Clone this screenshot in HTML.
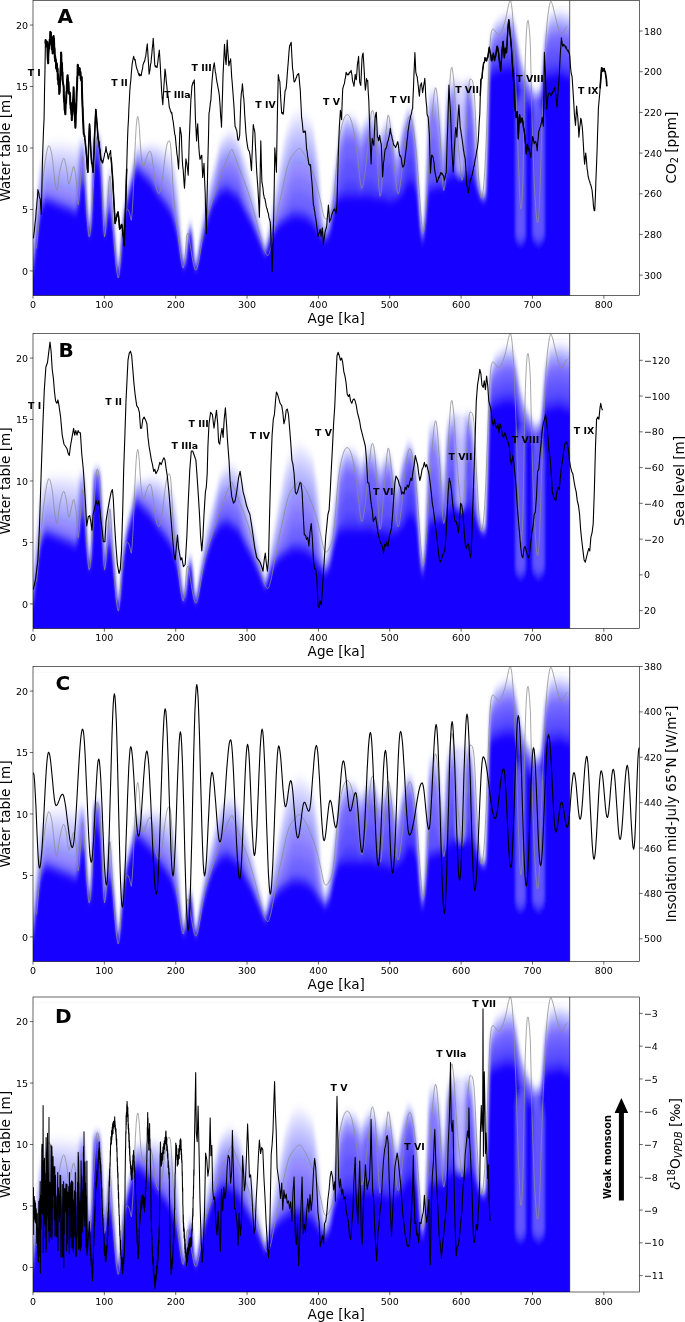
<!DOCTYPE html><html><head><meta charset="utf-8"><style>html,body{margin:0;padding:0;background:#fff;overflow:hidden}svg{display:block}</style></head><body><svg width="685" height="1322" viewBox="0 0 685 1322">
<style>.tk{font-family:'DejaVu Sans', 'Liberation Sans', sans-serif;font-size:9.5px;fill:#000}.al{font-family:'DejaVu Sans', 'Liberation Sans', sans-serif;font-size:13.6px;fill:#000}.pl{font-family:'DejaVu Sans', 'Liberation Sans', sans-serif;font-size:20px;font-weight:bold;fill:#000}.tl{font-family:'DejaVu Sans', 'Liberation Sans', sans-serif;font-size:9.4px;font-weight:bold;fill:#000}</style>
<rect width="685" height="1322" fill="#fff"/>
<defs><filter id="bl" x="-0.1" y="-0.1" width="1.2" height="1.2"><feGaussianBlur stdDeviation="1.8 4"/></filter>
<clipPath id="cp"><rect x="33" y="0.5" width="536.8" height="295"/></clipPath><clipPath id="cp2"><rect x="33" y="0.5" width="606.5" height="295"/></clipPath>
<g id="dens"><path d="M26.0,320 L26.0,251.4 L33.0,236.9 L36.0,202.3 L39.0,167.8 L42.0,153.0 L45.5,145.0 L50.0,142.2 L60.0,141.5 L70.0,142.6 L75.3,143.7 L77.5,143.1 L80.2,138.4 L82.0,137.0 L85.0,141.3 L86.5,181.6 L89.8,232.4 L92.0,191.2 L93.5,136.4 L96.0,134.4 L100.0,134.4 L101.8,151.9 L104.6,233.3 L107.4,176.9 L110.0,163.3 L113.0,201.4 L117.6,268.3 L120.0,250.9 L122.0,216.4 L124.5,201.0 L127.0,185.9 L131.0,170.9 L135.0,150.9 L137.0,146.0 L143.0,146.2 L150.0,143.5 L157.0,143.9 L165.0,147.4 L171.0,152.6 L175.0,163.2 L178.0,187.6 L181.0,231.4 L184.0,262.4 L186.5,245.7 L188.5,226.7 L190.4,218.6 L192.2,226.7 L194.0,250.7 L196.0,265.3 L200.6,228.1 L206.3,194.6 L213.0,166.9 L220.0,139.8 L226.7,132.0 L231.3,130.1 L238.0,136.1 L245.0,157.3 L251.7,182.1 L258.5,213.4 L265.3,245.5 L272.0,206.5 L279.0,163.1 L285.7,128.8 L292.5,113.7 L299.3,109.9 L306.0,113.8 L313.0,121.7 L318.6,154.0 L321.3,201.8 L324.8,227.7 L330.0,201.7 L334.0,167.3 L337.5,146.6 L339.0,126.5 L346.0,113.3 L355.0,116.3 L361.0,126.4 L365.0,119.2 L370.0,111.3 L375.0,116.3 L380.0,131.4 L385.0,121.2 L390.0,116.3 L397.0,151.3 L403.0,121.1 L408.0,106.1 L413.0,111.0 L417.0,141.4 L420.0,201.4 L422.5,232.6 L425.0,201.4 L429.0,90.7 L435.0,86.8 L440.0,102.2 L443.5,152.0 L447.0,86.6 L452.0,78.3 L458.0,78.7 L462.0,81.7 L466.0,78.3 L471.0,78.2 L475.0,111.9 L478.0,171.1 L482.0,195.2 L486.0,190.5 L488.0,101.6 L490.0,35.9 L495.0,21.1 L505.0,13.2 L513.0,13.2 L516.0,26.0 L520.0,51.0 L525.0,70.7 L530.0,80.6 L535.0,90.5 L541.0,85.5 L545.0,31.0 L550.0,11.4 L560.0,9.4 L566.0,11.4 L576.0,13.4 L576.0,320 Z" fill="#1600ff" fill-opacity="0.050"/><path d="M26.0,320 L26.0,254.0 L33.0,240.3 L36.0,206.7 L39.0,173.0 L42.0,158.5 L45.5,150.6 L50.0,148.2 L60.0,147.9 L70.0,149.3 L75.3,150.6 L77.5,148.8 L80.2,141.1 L82.0,138.8 L85.0,143.6 L86.5,184.7 L89.8,233.1 L92.0,193.3 L93.5,137.0 L96.0,135.0 L100.0,135.2 L101.8,155.3 L104.6,233.9 L107.4,180.3 L110.0,165.8 L113.0,204.0 L117.6,268.9 L120.0,252.7 L122.0,219.0 L124.5,202.8 L127.0,187.7 L131.0,172.7 L135.0,152.6 L137.0,147.8 L143.0,148.4 L150.0,146.4 L157.0,147.5 L165.0,151.9 L171.0,157.3 L175.0,169.1 L178.0,192.3 L181.0,234.0 L184.0,263.1 L186.5,247.0 L188.5,227.9 L190.4,219.6 L192.2,228.1 L194.0,251.9 L196.0,265.9 L200.6,230.1 L206.3,197.5 L213.0,170.5 L220.0,143.1 L226.7,135.6 L231.3,134.0 L238.0,140.0 L245.0,161.6 L251.7,186.1 L258.5,216.0 L265.3,246.5 L272.0,209.4 L279.0,168.9 L285.7,135.9 L292.5,120.7 L299.3,117.1 L306.0,120.9 L313.0,128.7 L318.6,161.3 L321.3,205.1 L324.8,229.0 L330.0,204.8 L334.0,171.7 L337.5,149.7 L339.0,129.2 L346.0,115.7 L355.0,118.6 L361.0,129.1 L365.0,121.5 L370.0,113.8 L375.0,118.7 L380.0,133.9 L385.0,123.5 L390.0,118.8 L397.0,153.6 L403.0,123.3 L408.0,108.2 L413.0,113.0 L417.0,144.0 L420.0,204.0 L422.5,233.7 L425.0,204.0 L429.0,94.0 L435.0,90.1 L440.0,106.4 L443.5,155.7 L447.0,89.6 L452.0,80.7 L458.0,81.9 L462.0,84.7 L466.0,80.7 L471.0,80.6 L475.0,115.4 L478.0,173.1 L482.0,195.7 L486.0,191.3 L488.0,104.5 L490.0,37.5 L495.0,23.1 L505.0,15.4 L513.0,15.4 L516.0,27.9 L520.0,52.9 L525.0,72.0 L530.0,81.7 L535.0,91.4 L541.0,86.4 L545.0,32.8 L550.0,13.9 L560.0,11.9 L566.0,13.9 L576.0,15.9 L576.0,320 Z" fill="#1600ff" fill-opacity="0.074"/><path d="M26.0,320 L26.0,256.9 L33.0,244.3 L36.0,211.6 L39.0,178.9 L42.0,164.7 L45.5,157.0 L50.0,155.0 L60.0,155.2 L70.0,156.9 L75.3,158.4 L77.5,155.4 L80.2,144.0 L82.0,140.8 L85.0,146.3 L86.5,188.1 L89.8,233.9 L92.0,195.8 L93.5,137.8 L96.0,135.8 L100.0,136.1 L101.8,159.3 L104.6,234.6 L107.4,184.3 L110.0,168.6 L113.0,206.9 L117.6,269.6 L120.0,254.6 L122.0,221.9 L124.5,204.9 L127.0,189.6 L131.0,174.6 L135.0,154.4 L137.0,149.8 L143.0,150.9 L150.0,149.6 L157.0,151.6 L165.0,156.9 L171.0,162.7 L175.0,175.7 L178.0,197.7 L181.0,236.9 L184.0,263.9 L186.5,248.5 L188.5,229.2 L190.4,220.8 L192.2,229.7 L194.0,253.2 L196.0,266.6 L200.6,232.3 L206.3,200.9 L213.0,174.5 L220.0,146.9 L226.7,139.7 L231.3,138.5 L238.0,144.3 L245.0,166.5 L251.7,190.7 L258.5,218.9 L265.3,247.5 L272.0,212.6 L279.0,175.5 L285.7,144.0 L292.5,128.6 L299.3,125.3 L306.0,128.9 L313.0,136.6 L318.6,169.7 L321.3,208.8 L324.8,230.5 L330.0,208.3 L334.0,176.6 L337.5,153.2 L339.0,132.3 L346.0,118.5 L355.0,121.3 L361.0,132.1 L365.0,124.0 L370.0,116.6 L375.0,121.4 L380.0,136.8 L385.0,126.1 L390.0,121.6 L397.0,156.3 L403.0,125.7 L408.0,110.5 L413.0,115.1 L417.0,146.9 L420.0,206.9 L422.5,235.0 L425.0,206.9 L429.0,97.6 L435.0,93.8 L440.0,111.0 L443.5,159.8 L447.0,93.0 L452.0,83.4 L458.0,85.5 L462.0,88.2 L466.0,83.4 L471.0,83.2 L475.0,119.4 L478.0,175.3 L482.0,196.2 L486.0,192.3 L488.0,107.8 L490.0,39.3 L495.0,25.4 L505.0,17.8 L513.0,17.8 L516.0,30.0 L520.0,55.0 L525.0,73.5 L530.0,83.0 L535.0,92.5 L541.0,87.5 L545.0,34.9 L550.0,16.7 L560.0,14.7 L566.0,16.8 L576.0,18.8 L576.0,320 Z" fill="#1600ff" fill-opacity="0.080"/><path d="M26.0,320 L26.0,260.1 L33.0,248.5 L36.0,216.9 L39.0,185.2 L42.0,171.5 L45.5,163.8 L50.0,162.3 L60.0,163.0 L70.0,165.1 L75.3,166.8 L77.5,162.4 L80.2,147.3 L82.0,143.0 L85.0,149.1 L86.5,191.8 L89.8,234.7 L92.0,198.4 L93.5,138.6 L96.0,136.6 L100.0,137.0 L101.8,163.5 L104.6,235.4 L107.4,188.5 L110.0,171.7 L113.0,210.1 L117.6,270.4 L120.0,256.7 L122.0,225.1 L124.5,207.1 L127.0,191.7 L131.0,176.7 L135.0,156.5 L137.0,152.0 L143.0,153.5 L150.0,153.1 L157.0,156.0 L165.0,162.4 L171.0,168.5 L175.0,182.9 L178.0,203.6 L181.0,240.1 L184.0,264.7 L186.5,250.1 L188.5,230.7 L190.4,222.0 L192.2,231.4 L194.0,254.7 L196.0,267.4 L200.6,234.8 L206.3,204.5 L213.0,178.8 L220.0,151.0 L226.7,144.1 L231.3,143.3 L238.0,149.1 L245.0,171.8 L251.7,195.5 L258.5,222.1 L265.3,248.7 L272.0,216.1 L279.0,182.6 L285.7,152.6 L292.5,137.1 L299.3,134.1 L306.0,137.6 L313.0,145.1 L318.6,178.7 L321.3,212.8 L324.8,232.1 L330.0,212.1 L334.0,181.9 L337.5,156.9 L339.0,135.7 L346.0,121.5 L355.0,124.1 L361.0,135.4 L365.0,126.8 L370.0,119.7 L375.0,124.3 L380.0,140.0 L385.0,128.9 L390.0,124.7 L397.0,159.1 L403.0,128.2 L408.0,113.0 L413.0,117.5 L417.0,150.0 L420.0,210.1 L422.5,236.4 L425.0,210.1 L429.0,101.6 L435.0,97.8 L440.0,116.1 L443.5,164.3 L447.0,96.6 L452.0,86.3 L458.0,89.3 L462.0,92.0 L466.0,86.3 L471.0,86.0 L475.0,123.7 L478.0,177.8 L482.0,196.7 L486.0,193.4 L488.0,111.4 L490.0,41.3 L495.0,27.9 L505.0,20.5 L513.0,20.5 L516.0,32.3 L520.0,57.3 L525.0,75.1 L530.0,84.4 L535.0,93.7 L541.0,88.7 L545.0,37.2 L550.0,19.8 L560.0,17.8 L566.0,20.0 L576.0,22.0 L576.0,320 Z" fill="#1600ff" fill-opacity="0.086"/><path d="M26.0,320 L26.0,263.5 L33.0,253.0 L36.0,222.5 L39.0,192.0 L42.0,178.6 L45.5,171.1 L50.0,170.0 L60.0,171.3 L70.0,173.8 L75.3,175.7 L77.5,169.8 L80.2,150.7 L82.0,145.3 L85.0,152.1 L86.5,195.7 L89.8,235.6 L92.0,201.2 L93.5,139.5 L96.0,137.4 L100.0,138.0 L101.8,168.0 L104.6,236.1 L107.4,193.0 L110.0,174.9 L113.0,213.5 L117.6,271.1 L120.0,259.0 L122.0,228.5 L124.5,209.4 L127.0,194.0 L131.0,179.0 L135.0,158.6 L137.0,154.3 L143.0,156.4 L150.0,156.8 L157.0,160.6 L165.0,168.1 L171.0,174.6 L175.0,190.5 L178.0,209.7 L181.0,243.5 L184.0,265.6 L186.5,251.7 L188.5,232.3 L190.4,223.4 L192.2,233.2 L194.0,256.3 L196.0,268.1 L200.6,237.3 L206.3,208.3 L213.0,183.4 L220.0,155.3 L226.7,148.8 L231.3,148.3 L238.0,154.0 L245.0,177.4 L251.7,200.7 L258.5,225.5 L265.3,249.9 L272.0,219.8 L279.0,190.1 L285.7,161.8 L292.5,146.1 L299.3,143.4 L306.0,146.7 L313.0,154.1 L318.6,188.2 L321.3,217.1 L324.8,233.7 L330.0,216.2 L334.0,187.5 L337.5,160.9 L339.0,139.2 L346.0,124.6 L355.0,127.2 L361.0,138.8 L365.0,129.7 L370.0,122.9 L375.0,127.4 L380.0,143.3 L385.0,131.9 L390.0,127.9 L397.0,162.1 L403.0,131.0 L408.0,115.6 L413.0,120.0 L417.0,153.4 L420.0,213.5 L422.5,237.8 L425.0,213.5 L429.0,105.7 L435.0,102.1 L440.0,121.4 L443.5,169.1 L447.0,100.4 L452.0,89.3 L458.0,93.4 L462.0,95.9 L466.0,89.3 L471.0,89.0 L475.0,128.2 L478.0,180.3 L482.0,197.2 L486.0,194.5 L488.0,115.2 L490.0,43.4 L495.0,30.5 L505.0,23.3 L513.0,23.3 L516.0,34.8 L520.0,59.8 L525.0,76.8 L530.0,85.9 L535.0,94.9 L541.0,89.9 L545.0,39.6 L550.0,23.1 L560.0,21.1 L566.0,23.3 L576.0,25.3 L576.0,320 Z" fill="#1600ff" fill-opacity="0.095"/><path d="M26.0,320 L26.0,267.0 L33.0,257.6 L36.0,228.3 L39.0,199.0 L42.0,186.0 L45.5,178.6 L50.0,178.0 L60.0,180.0 L70.0,182.8 L75.3,185.0 L77.5,177.5 L80.2,154.2 L82.0,147.7 L85.0,155.3 L86.5,199.8 L89.8,236.5 L92.0,204.1 L93.5,140.4 L96.0,138.3 L100.0,139.0 L101.8,172.6 L104.6,237.0 L107.4,197.6 L110.0,178.2 L113.0,217.0 L117.6,272.0 L120.0,261.3 L122.0,232.0 L124.5,211.9 L127.0,196.3 L131.0,181.3 L135.0,160.9 L137.0,156.7 L143.0,159.3 L150.0,160.7 L157.0,165.4 L165.0,174.1 L171.0,181.0 L175.0,198.5 L178.0,216.1 L181.0,247.0 L184.0,266.5 L186.5,253.5 L188.5,233.9 L190.4,224.8 L192.2,235.1 L194.0,257.9 L196.0,269.0 L200.6,240.0 L206.3,212.2 L213.0,188.2 L220.0,159.8 L226.7,153.7 L231.3,153.6 L238.0,159.2 L245.0,183.2 L251.7,206.0 L258.5,229.0 L265.3,251.2 L272.0,223.7 L279.0,197.9 L285.7,171.3 L292.5,155.4 L299.3,153.1 L306.0,156.3 L313.0,163.4 L318.6,198.1 L321.3,221.5 L324.8,235.5 L330.0,220.4 L334.0,193.3 L337.5,165.0 L339.0,142.9 L346.0,127.9 L355.0,130.3 L361.0,142.4 L365.0,132.8 L370.0,126.2 L375.0,130.7 L380.0,146.7 L385.0,134.9 L390.0,131.2 L397.0,165.3 L403.0,133.8 L408.0,118.4 L413.0,122.6 L417.0,156.8 L420.0,217.0 L422.5,239.4 L425.0,217.0 L429.0,110.1 L435.0,106.5 L440.0,126.9 L443.5,174.0 L447.0,104.4 L452.0,92.5 L458.0,97.7 L462.0,100.1 L466.0,92.5 L471.0,92.1 L475.0,133.0 L478.0,183.0 L482.0,197.8 L486.0,195.7 L488.0,119.1 L490.0,45.6 L495.0,33.3 L505.0,26.3 L513.0,26.3 L516.0,37.3 L520.0,62.3 L525.0,78.6 L530.0,87.4 L535.0,96.1 L541.0,91.1 L545.0,42.0 L550.0,26.5 L560.0,24.5 L566.0,26.7 L576.0,28.7 L576.0,320 Z" fill="#1600ff" fill-opacity="0.104"/><path d="M26.0,320 L26.0,269.2 L33.0,261.2 L36.0,233.2 L39.0,205.2 L42.0,191.9 L45.5,184.7 L50.0,184.7 L60.0,187.3 L70.0,190.6 L75.3,193.0 L77.5,185.4 L80.2,157.9 L82.0,150.2 L85.0,158.6 L86.5,202.8 L89.8,237.1 L92.0,205.9 L93.5,141.4 L96.0,139.3 L100.0,140.1 L101.8,176.2 L104.6,237.5 L107.4,201.2 L110.0,181.7 L113.0,219.2 L117.6,272.5 L120.0,262.8 L122.0,234.2 L124.5,213.4 L127.0,197.8 L131.0,182.8 L135.0,163.1 L137.0,159.2 L143.0,162.4 L150.0,164.9 L157.0,171.0 L165.0,180.6 L171.0,188.0 L175.0,205.8 L178.0,221.8 L181.0,249.2 L184.0,267.1 L186.5,254.6 L188.5,234.9 L190.4,225.6 L192.2,236.2 L194.0,258.9 L196.0,269.5 L200.6,241.7 L206.3,215.1 L213.0,191.9 L220.0,164.5 L226.7,158.8 L231.3,159.1 L238.0,164.6 L245.0,189.4 L251.7,210.4 L258.5,231.2 L265.3,252.0 L272.0,226.3 L279.0,205.1 L285.7,182.0 L292.5,165.1 L299.3,163.2 L306.0,166.2 L313.0,173.1 L318.6,207.8 L321.3,224.8 L324.8,236.6 L330.0,223.4 L334.0,198.2 L337.5,169.2 L339.0,146.7 L346.0,131.2 L355.0,133.6 L361.0,146.2 L365.0,135.9 L370.0,129.7 L375.0,134.0 L380.0,150.3 L385.0,138.1 L390.0,134.7 L397.0,168.6 L403.0,136.8 L408.0,121.3 L413.0,125.2 L417.0,160.4 L420.0,219.2 L422.5,240.3 L425.0,219.2 L429.0,114.6 L435.0,111.1 L440.0,132.7 L443.5,177.2 L447.0,108.6 L452.0,95.8 L458.0,102.1 L462.0,104.3 L466.0,95.8 L471.0,95.3 L475.0,137.9 L478.0,185.4 L482.0,198.2 L486.0,196.4 L488.0,123.2 L490.0,47.8 L495.0,36.1 L505.0,29.3 L513.0,29.3 L516.0,39.9 L520.0,64.9 L525.0,80.4 L530.0,89.0 L535.0,97.5 L541.0,92.5 L545.0,44.6 L550.0,30.0 L560.0,28.0 L566.0,30.3 L576.0,32.3 L576.0,320 Z" fill="#1600ff" fill-opacity="0.117"/><path d="M26.0,320 L26.0,271.0 L33.0,264.4 L36.0,237.8 L39.0,211.2 L42.0,197.9 L45.5,190.8 L50.0,191.3 L60.0,194.7 L70.0,198.3 L75.3,201.1 L77.5,193.0 L80.2,161.7 L82.0,152.8 L85.0,164.6 L86.5,205.2 L89.8,237.5 L92.0,207.2 L93.5,142.3 L96.0,140.2 L100.0,141.2 L101.8,179.4 L104.6,237.8 L107.4,204.4 L110.0,188.2 L113.0,221.0 L117.6,272.8 L120.0,263.8 L122.0,236.0 L124.5,214.5 L127.0,198.8 L131.0,183.8 L135.0,165.3 L137.0,161.5 L143.0,165.8 L150.0,170.0 L157.0,178.0 L165.0,187.8 L171.0,195.8 L175.0,212.9 L178.0,227.0 L181.0,251.0 L184.0,267.5 L186.5,255.3 L188.5,235.7 L190.4,226.3 L192.2,237.0 L194.0,259.7 L196.0,269.8 L200.6,242.9 L206.3,217.4 L213.0,195.2 L220.0,170.8 L226.7,165.8 L231.3,166.8 L238.0,172.2 L245.0,196.2 L251.7,214.4 L258.5,233.0 L265.3,252.6 L272.0,228.5 L279.0,212.1 L285.7,194.8 L292.5,177.7 L299.3,176.3 L306.0,179.0 L313.0,185.7 L318.6,217.2 L321.3,227.7 L324.8,237.3 L330.0,226.0 L334.0,202.8 L337.5,176.1 L339.0,150.7 L346.0,134.7 L355.0,136.9 L361.0,150.0 L365.0,139.1 L370.0,133.3 L375.0,137.5 L380.0,154.0 L385.0,141.4 L390.0,138.3 L397.0,174.6 L403.0,139.8 L408.0,124.2 L413.0,128.0 L417.0,167.2 L420.0,221.0 L422.5,241.0 L425.0,221.0 L429.0,119.2 L435.0,115.8 L440.0,144.4 L443.5,180.3 L447.0,112.9 L452.0,99.3 L458.0,106.6 L462.0,108.8 L466.0,99.3 L471.0,98.6 L475.0,147.6 L478.0,186.7 L482.0,198.4 L486.0,196.9 L488.0,128.6 L490.0,50.2 L495.0,39.0 L505.0,32.4 L513.0,32.4 L516.0,42.6 L520.0,67.6 L525.0,82.3 L530.0,90.6 L535.0,98.8 L541.0,93.8 L545.0,47.3 L550.0,33.6 L560.0,31.6 L566.0,34.0 L576.0,36.0 L576.0,320 Z" fill="#1600ff" fill-opacity="0.132"/><path d="M26.0,320 L26.0,272.8 L33.0,267.6 L36.0,242.3 L39.0,217.2 L42.0,203.2 L45.5,196.2 L50.0,197.2 L60.0,201.2 L70.0,205.2 L75.3,208.2 L77.5,200.6 L80.2,171.4 L82.0,160.6 L85.0,172.7 L86.5,207.7 L89.8,237.9 L92.0,208.6 L93.5,143.7 L96.0,141.2 L100.0,142.3 L101.8,182.6 L104.6,238.2 L107.4,207.6 L110.0,196.8 L113.0,222.8 L117.6,273.2 L120.0,264.9 L122.0,237.8 L124.5,215.6 L127.0,199.8 L131.0,184.8 L135.0,167.5 L137.0,163.9 L143.0,169.1 L150.0,175.1 L157.0,185.0 L165.0,194.9 L171.0,203.6 L175.0,220.0 L178.0,232.2 L181.0,252.8 L184.0,267.9 L186.5,256.1 L188.5,236.4 L190.4,226.9 L192.2,237.9 L194.0,260.4 L196.0,270.2 L200.6,244.1 L206.3,219.7 L213.0,198.5 L220.0,178.3 L226.7,174.2 L231.3,176.1 L238.0,181.3 L245.0,203.1 L251.7,218.4 L258.5,234.8 L265.3,253.2 L272.0,230.7 L279.0,219.0 L285.7,207.7 L292.5,192.3 L299.3,191.5 L306.0,193.9 L313.0,200.3 L318.6,226.7 L321.3,230.6 L324.8,238.1 L330.0,228.6 L334.0,207.3 L337.5,184.8 L339.0,163.8 L346.0,140.5 L355.0,142.5 L361.0,162.7 L365.0,144.4 L370.0,139.1 L375.0,143.1 L380.0,166.0 L385.0,146.8 L390.0,144.1 L397.0,182.7 L403.0,144.8 L408.0,127.2 L413.0,130.8 L417.0,176.3 L420.0,222.8 L422.5,241.7 L425.0,222.8 L429.0,139.4 L435.0,136.4 L440.0,160.4 L443.5,183.2 L447.0,131.3 L452.0,105.7 L458.0,126.4 L462.0,127.9 L466.0,105.7 L471.0,104.8 L475.0,160.9 L478.0,188.0 L482.0,198.7 L486.0,197.4 L488.0,134.9 L490.0,53.1 L495.0,42.9 L505.0,36.6 L513.0,36.6 L516.0,46.1 L520.0,71.2 L525.0,84.7 L530.0,92.5 L535.0,100.4 L541.0,95.4 L545.0,50.7 L550.0,38.5 L560.0,36.5 L566.0,38.9 L576.0,40.9 L576.0,320 Z" fill="#1600ff" fill-opacity="0.152"/><path d="M26.0,320 L26.0,274.1 L33.0,269.1 L36.0,244.1 L39.0,219.1 L42.0,204.4 L45.5,197.4 L50.0,198.4 L60.0,202.4 L70.0,206.4 L75.3,209.4 L77.5,205.6 L80.2,182.2 L82.0,169.3 L85.0,180.7 L86.5,209.1 L89.8,238.3 L92.0,209.7 L93.5,147.5 L96.0,144.2 L100.0,146.0 L101.8,184.1 L104.6,238.5 L107.4,209.1 L110.0,205.5 L113.0,224.1 L117.6,273.5 L120.0,265.8 L122.0,239.1 L124.5,216.6 L127.0,200.8 L131.0,185.8 L135.0,169.3 L137.0,165.8 L143.0,171.6 L150.0,178.6 L157.0,189.6 L165.0,199.6 L171.0,208.6 L175.0,222.1 L178.0,234.1 L181.0,254.1 L184.0,268.3 L186.5,256.8 L188.5,237.1 L190.4,227.5 L192.2,238.6 L194.0,261.1 L196.0,270.5 L200.6,245.2 L206.3,221.1 L213.0,200.1 L220.0,185.9 L226.7,182.6 L231.3,185.4 L238.0,190.4 L245.0,207.6 L251.7,220.1 L258.5,236.1 L265.3,253.7 L272.0,232.1 L279.0,221.1 L285.7,215.6 L292.5,206.8 L299.3,206.7 L306.0,208.8 L313.0,214.8 L318.6,229.1 L321.3,232.1 L324.8,238.8 L330.0,230.1 L334.0,209.1 L337.5,193.5 L339.0,178.4 L346.0,159.1 L355.0,160.3 L361.0,176.8 L365.0,161.6 L370.0,158.2 L375.0,161.5 L380.0,179.5 L385.0,164.2 L390.0,163.2 L397.0,190.7 L403.0,160.7 L408.0,136.3 L413.0,139.3 L417.0,185.4 L420.0,224.1 L422.5,242.3 L425.0,224.1 L429.0,162.2 L435.0,159.7 L440.0,176.4 L443.5,184.4 L447.0,152.2 L452.0,129.8 L458.0,148.7 L462.0,149.4 L466.0,129.8 L471.0,128.1 L475.0,174.2 L478.0,189.3 L482.0,198.9 L486.0,197.9 L488.0,141.2 L490.0,59.7 L495.0,51.8 L505.0,46.3 L513.0,46.3 L516.0,54.2 L520.0,79.2 L525.0,89.6 L530.0,96.4 L535.0,103.5 L541.0,98.5 L545.0,58.6 L550.0,50.1 L560.0,48.1 L566.0,50.7 L576.0,52.7 L576.0,320 Z" fill="#1600ff" fill-opacity="0.179"/><path d="M26.0,320 L26.0,275.6 L33.0,270.6 L36.0,245.6 L39.0,220.6 L42.0,205.8 L45.5,198.8 L50.0,199.8 L60.0,203.8 L70.0,207.8 L75.3,210.8 L77.5,207.2 L80.2,193.3 L82.0,178.3 L85.0,184.4 L86.5,210.6 L89.8,238.7 L92.0,211.1 L93.5,151.8 L96.0,150.7 L100.0,154.0 L101.8,185.6 L104.6,238.9 L107.4,210.6 L110.0,209.4 L113.0,225.6 L117.6,273.9 L120.0,266.8 L122.0,240.6 L124.5,217.7 L127.0,201.8 L131.0,186.8 L135.0,170.7 L137.0,167.4 L143.0,173.2 L150.0,180.2 L157.0,191.2 L165.0,201.2 L171.0,210.2 L175.0,223.6 L178.0,235.6 L181.0,255.6 L184.0,268.7 L186.5,257.6 L188.5,237.8 L190.4,228.1 L192.2,239.5 L194.0,261.8 L196.0,270.9 L200.6,246.4 L206.3,222.6 L213.0,201.6 L220.0,189.4 L226.7,186.4 L231.3,189.4 L238.0,194.4 L245.0,209.2 L251.7,221.6 L258.5,237.6 L265.3,254.3 L272.0,233.6 L279.0,222.6 L285.7,217.2 L292.5,212.4 L299.3,212.4 L306.0,214.4 L313.0,220.4 L318.6,230.6 L321.3,233.6 L324.8,239.6 L330.0,231.6 L334.0,210.6 L337.5,197.4 L339.0,193.3 L346.0,180.4 L355.0,180.8 L361.0,191.3 L365.0,181.2 L370.0,180.1 L375.0,182.5 L380.0,193.3 L385.0,184.1 L390.0,185.1 L397.0,194.4 L403.0,178.9 L408.0,155.9 L413.0,157.5 L417.0,189.4 L420.0,225.6 L422.5,242.9 L425.0,225.6 L429.0,185.3 L435.0,183.3 L440.0,182.4 L443.5,185.8 L447.0,173.3 L452.0,157.2 L458.0,171.3 L462.0,171.3 L466.0,157.2 L471.0,154.7 L475.0,179.4 L478.0,190.7 L482.0,199.2 L486.0,198.4 L488.0,144.4 L490.0,67.2 L495.0,61.9 L505.0,57.4 L513.0,57.4 L516.0,63.4 L520.0,88.4 L525.0,95.2 L530.0,100.8 L535.0,107.0 L541.0,102.0 L545.0,67.5 L550.0,63.4 L560.0,61.4 L566.0,64.2 L576.0,66.2 L576.0,320 Z" fill="#1600ff" fill-opacity="0.250"/><path d="M26.0,320 L26.0,277.1 L33.0,272.1 L36.0,247.1 L39.0,222.1 L42.0,207.2 L45.5,200.2 L50.0,201.2 L60.0,205.2 L70.0,209.2 L75.3,212.2 L77.5,208.8 L80.2,195.5 L82.0,180.5 L85.0,186.3 L86.5,212.1 L89.8,239.2 L92.0,212.4 L93.5,155.2 L96.0,157.2 L100.0,162.0 L101.8,187.1 L104.6,239.3 L107.4,212.1 L110.0,211.3 L113.0,227.1 L117.6,274.3 L120.0,267.9 L122.0,242.1 L124.5,218.8 L127.0,202.9 L131.0,187.9 L135.0,172.1 L137.0,168.9 L143.0,174.8 L150.0,181.8 L157.0,192.8 L165.0,202.8 L171.0,211.8 L175.0,225.1 L178.0,237.1 L181.0,257.1 L184.0,269.2 L186.5,258.4 L188.5,238.5 L190.4,228.7 L192.2,240.3 L194.0,262.5 L196.0,271.3 L200.6,247.6 L206.3,224.1 L213.0,203.1 L220.0,191.3 L226.7,188.3 L231.3,191.3 L238.0,196.3 L245.0,210.8 L251.7,223.1 L258.5,239.1 L265.3,254.8 L272.0,235.1 L279.0,224.1 L285.7,218.8 L292.5,214.3 L299.3,214.3 L306.0,216.3 L313.0,222.3 L318.6,232.1 L321.3,235.1 L324.8,240.4 L330.0,233.1 L334.0,212.1 L337.5,199.3 L339.0,195.5 L346.0,192.4 L355.0,192.4 L361.0,193.5 L365.0,192.4 L370.0,192.4 L375.0,194.4 L380.0,195.5 L385.0,195.4 L390.0,197.4 L397.0,196.3 L403.0,189.4 L408.0,175.6 L413.0,175.7 L417.0,191.3 L420.0,227.1 L422.5,243.6 L425.0,227.1 L429.0,187.5 L435.0,185.5 L440.0,184.3 L443.5,187.2 L447.0,175.5 L452.0,172.4 L458.0,173.5 L462.0,173.5 L466.0,172.4 L471.0,169.4 L475.0,181.3 L478.0,192.1 L482.0,199.5 L486.0,198.9 L488.0,146.3 L490.0,72.4 L495.0,68.4 L505.0,64.4 L513.0,64.4 L516.0,69.4 L520.0,94.4 L525.0,99.4 L530.0,104.4 L535.0,110.0 L541.0,105.0 L545.0,73.4 L550.0,71.4 L560.0,69.4 L566.0,72.4 L576.0,74.4 L576.0,320 Z" fill="#1600ff" fill-opacity="0.333"/><path d="M26.0,320 L26.0,278.5 L33.0,273.5 L36.0,248.5 L39.0,223.5 L42.0,208.6 L45.5,201.6 L50.0,202.6 L60.0,206.6 L70.0,210.6 L75.3,213.6 L77.5,210.4 L80.2,197.8 L82.0,182.8 L85.0,188.1 L86.5,213.5 L89.8,239.6 L92.0,213.7 L93.5,157.6 L96.0,161.3 L100.0,166.3 L101.8,188.5 L104.6,239.6 L107.4,213.5 L110.0,213.1 L113.0,228.5 L117.6,274.6 L120.0,268.9 L122.0,243.5 L124.5,219.9 L127.0,203.9 L131.0,188.9 L135.0,173.6 L137.0,170.5 L143.0,176.4 L150.0,183.4 L157.0,194.4 L165.0,204.4 L171.0,213.4 L175.0,226.5 L178.0,238.5 L181.0,258.5 L184.0,269.6 L186.5,259.2 L188.5,239.3 L190.4,229.4 L192.2,241.2 L194.0,263.3 L196.0,271.6 L200.6,248.8 L206.3,225.5 L213.0,204.5 L220.0,193.1 L226.7,190.1 L231.3,193.1 L238.0,198.1 L245.0,212.4 L251.7,224.5 L258.5,240.5 L265.3,255.4 L272.0,236.5 L279.0,225.5 L285.7,220.4 L292.5,216.1 L299.3,216.1 L306.0,218.1 L313.0,224.1 L318.6,233.5 L321.3,236.5 L324.8,241.2 L330.0,234.5 L334.0,213.5 L337.5,201.1 L339.0,197.8 L346.0,195.2 L355.0,195.2 L361.0,195.8 L365.0,195.2 L370.0,195.2 L375.0,197.2 L380.0,197.8 L385.0,198.2 L390.0,200.2 L397.0,198.1 L403.0,192.2 L408.0,181.3 L413.0,181.3 L417.0,193.1 L420.0,228.5 L422.5,244.3 L425.0,228.5 L429.0,189.8 L435.0,187.8 L440.0,186.1 L443.5,188.6 L447.0,177.8 L452.0,175.2 L458.0,175.8 L462.0,175.8 L466.0,175.2 L471.0,172.2 L475.0,183.1 L478.0,193.6 L482.0,199.7 L486.0,199.5 L488.0,148.1 L490.0,75.2 L495.0,71.2 L505.0,67.2 L513.0,67.2 L516.0,72.2 L520.0,97.2 L525.0,102.2 L530.0,107.2 L535.0,112.5 L541.0,107.5 L545.0,76.2 L550.0,74.2 L560.0,72.2 L566.0,75.2 L576.0,77.2 L576.0,320 Z" fill="#1600ff" fill-opacity="0.500"/><path d="M26.0,320 L26.0,280.0 L33.0,275.0 L36.0,250.0 L39.0,225.0 L42.0,210.0 L45.5,203.0 L50.0,204.0 L60.0,208.0 L70.0,212.0 L75.3,215.0 L77.5,212.0 L80.2,200.0 L82.0,185.0 L85.0,190.0 L86.5,215.0 L89.8,240.0 L92.0,215.0 L93.5,160.0 L96.0,165.0 L100.0,170.0 L101.8,190.0 L104.6,240.0 L107.4,215.0 L110.0,215.0 L113.0,230.0 L117.6,275.0 L120.0,270.0 L122.0,245.0 L124.5,221.0 L127.0,205.0 L131.0,190.0 L135.0,175.0 L137.0,172.0 L143.0,178.0 L150.0,185.0 L157.0,196.0 L165.0,206.0 L171.0,215.0 L175.0,228.0 L178.0,240.0 L181.0,260.0 L184.0,270.0 L186.5,260.0 L188.5,240.0 L190.4,230.0 L192.2,242.0 L194.0,264.0 L196.0,272.0 L200.6,250.0 L206.3,227.0 L213.0,206.0 L220.0,195.0 L226.7,192.0 L231.3,195.0 L238.0,200.0 L245.0,214.0 L251.7,226.0 L258.5,242.0 L265.3,256.0 L272.0,238.0 L279.0,227.0 L285.7,222.0 L292.5,218.0 L299.3,218.0 L306.0,220.0 L313.0,226.0 L318.6,235.0 L321.3,238.0 L324.8,242.0 L330.0,236.0 L334.0,215.0 L337.5,203.0 L339.0,200.0 L346.0,198.0 L355.0,198.0 L361.0,198.0 L365.0,198.0 L370.0,198.0 L375.0,200.0 L380.0,200.0 L385.0,201.0 L390.0,203.0 L397.0,200.0 L403.0,195.0 L408.0,185.0 L413.0,185.0 L417.0,195.0 L420.0,230.0 L422.5,245.0 L425.0,230.0 L429.0,192.0 L435.0,190.0 L440.0,188.0 L443.5,190.0 L447.0,180.0 L452.0,178.0 L458.0,178.0 L462.0,178.0 L466.0,178.0 L471.0,175.0 L475.0,185.0 L478.0,195.0 L482.0,200.0 L486.0,200.0 L488.0,150.0 L490.0,78.0 L495.0,74.0 L505.0,70.0 L513.0,70.0 L516.0,75.0 L520.0,100.0 L525.0,105.0 L530.0,110.0 L535.0,115.0 L541.0,110.0 L545.0,79.0 L550.0,77.0 L560.0,75.0 L566.0,78.0 L576.0,80.0 L576.0,320 Z" fill="#1600ff"/><path d="M516.0,109.0 L516.9,100.0 L524.1,100.0 L525.0,109.0 L525.0,237.5 L520.5,242.0 L516.0,237.5 Z" fill="#fff" fill-opacity="0.33"/><path d="M533.0,121.0 L534.1,110.0 L542.9,110.0 L544.0,121.0 L544.0,236.5 L538.5,242.0 L533.0,236.5 Z" fill="#fff" fill-opacity="0.33"/><path d="M456.5,103.0 L457.3,95.0 L463.7,95.0 L464.5,103.0 L464.5,171.0 L460.5,175.0 L456.5,171.0 Z" fill="#fff" fill-opacity="0.5"/></g></defs><g transform="translate(0,0)"><g clip-path="url(#cp)"><g filter="url(#bl)"><use href="#dens"/></g></g></g><g transform="translate(0,0)"><g clip-path="url(#cp2)"><path id="gl" d="M36.6,248.5 37.1,242.8 37.8,234.8 38.6,225.6 39.4,216.1 40.2,207.6 40.9,199.8 41.6,192.1 42.4,184.6 43.1,177.6 43.9,171.1 44.6,165.9 45.3,160.7 46.1,155.9 46.8,151.6 47.6,148.3 48.2,146.3 49.0,145.6 49.8,146.5 50.5,148.7 51.2,151.6 51.9,155.0 52.7,160.8 53.4,168.2 54.2,175.6 54.8,181.3 55.6,186.6 56.3,189.9 57.0,190.1 57.7,187.1 58.4,181.9 59.1,176.1 59.9,171.1 60.6,167.8 61.4,164.4 62.1,161.5 62.9,159.3 63.6,158.2 64.4,159.0 65.1,161.4 65.8,164.7 66.5,168.2 67.3,174.0 67.9,180.6 68.7,184.2 69.4,183.5 70.1,180.6 70.9,177.0 71.6,174.0 72.4,170.5 73.1,167.2 73.8,166.4 74.7,169.4 75.6,174.9 76.4,181.3 77.3,195.4 78.2,204.7 78.9,200.4 79.6,190.9 80.4,181.3 81.1,171.4 81.8,161.4 82.6,156.5 83.2,159.0 83.9,166.7 84.7,178.4 85.4,187.2 86.1,198.9 86.8,211.7 87.6,223.5 88.4,232.5 89.1,236.8 89.9,234.6 90.7,226.8 91.4,215.6 92.1,203.6 92.8,193.0 93.6,180.7 94.4,167.5 95.1,155.5 95.7,146.3 96.6,137.4 97.4,136.1 98.2,137.6 99.0,141.7 99.8,149.2 100.6,161.5 101.5,177.3 102.3,193.0 103.0,210.3 103.7,227.6 104.5,236.8 105.1,234.7 105.9,226.9 106.6,216.8 107.4,207.6 108.2,194.0 109.1,180.2 110.0,175.9 110.8,183.8 111.6,198.6 112.4,215.6 113.2,229.9 114.0,240.8 114.8,250.8 115.6,259.4 116.3,266.4 117.2,273.5 118.0,277.9 118.7,277.5 119.5,270.0 120.3,257.7 121.1,245.7 121.8,237.9 122.6,230.0 123.5,222.8 124.3,217.2 125.1,213.4 125.9,211.1 126.7,209.8 127.5,209.2 128.3,209.8 129.1,211.8 129.8,214.0 130.7,218.8 131.4,220.3 132.2,212.1 133.0,198.1 133.8,178.9 134.6,158.4 135.4,140.7 136.2,126.7 137.0,118.8 137.8,116.4 138.6,120.1 139.4,128.3 140.1,140.9 141.0,153.7 141.7,159.5 142.5,164.0 143.3,166.4 144.1,165.7 144.9,163.0 145.7,160.0 146.5,157.9 147.3,155.6 148.1,153.4 148.9,152.1 149.7,151.4 150.5,151.7 151.3,153.7 152.1,157.8 152.9,163.6 153.7,169.5 154.4,175.7 155.2,181.9 156.0,187.0 156.8,189.9 157.6,192.2 158.4,193.5 159.2,193.3 160.0,191.4 160.8,187.9 161.6,183.6 162.4,179.1 163.2,172.4 164.0,165.1 164.8,158.4 165.6,152.8 166.3,147.8 167.1,144.1 168.0,141.8 168.8,140.7 169.5,141.0 170.4,143.5 171.1,150.5 171.9,165.2 172.7,182.2 173.4,192.1 174.2,201.5 175.1,210.8 175.8,217.7 176.6,224.6 177.4,231.3 178.3,237.8 179.1,244.4 179.9,251.0 180.7,257.0 181.4,261.6 182.5,267.2 183.3,268.0 184.3,262.5 185.4,253.7 186.0,245.1 186.5,235.9 187.8,233.0 188.3,234.5 188.9,237.3 189.6,241.1 190.3,245.6 191.0,250.5 191.8,255.4 192.7,260.1 193.5,264.2 194.3,267.4 195.1,269.5 195.9,270.0 196.6,269.2 197.3,267.3 198.0,264.4 198.8,260.9 199.5,256.7 200.3,252.2 201.0,247.5 201.7,242.8 202.5,238.2 203.2,233.9 203.8,230.1 204.5,226.9 205.3,223.5 206.1,220.6 206.8,218.0 207.5,215.7 208.2,213.5 208.9,211.4 209.7,209.2 210.5,206.8 211.3,204.2 212.0,202.1 212.7,199.9 213.4,197.7 214.1,195.5 214.9,193.2 215.6,190.8 216.4,188.5 217.2,186.2 218.0,183.8 218.8,181.5 219.6,179.2 220.4,177.0 221.1,175.0 221.8,173.0 222.6,170.8 223.4,168.6 224.2,166.4 225.0,164.2 225.8,162.0 226.6,160.0 227.4,158.0 228.1,156.2 228.8,154.5 229.5,153.1 230.1,151.9 230.6,150.9 231.8,149.3 232.5,149.8 233.1,151.7 234.0,154.3 234.6,155.7 235.3,157.4 236.0,159.3 236.8,161.4 237.6,163.6 238.4,165.9 239.2,168.1 240.0,170.4 240.8,172.5 241.6,174.5 242.3,176.4 243.1,178.3 243.8,180.3 244.6,182.2 245.3,184.2 246.1,186.3 246.9,188.4 247.6,190.6 248.4,192.9 249.1,195.3 249.9,197.7 250.6,200.1 251.4,202.7 252.2,205.2 252.9,207.9 253.7,210.6 254.4,213.3 255.2,216.2 256.0,219.3 256.7,222.5 257.5,225.8 258.3,229.0 259.0,232.2 259.8,235.2 260.5,238.0 261.2,240.5 262.0,243.1 262.8,245.6 263.5,247.9 264.3,250.0 265.0,251.8 265.7,253.3 266.3,254.5 266.9,255.3 267.9,255.7 268.7,254.8 269.4,252.7 270.3,249.6 271.0,247.0 271.7,243.7 272.4,240.0 273.1,236.0 273.9,231.6 274.8,226.9 275.5,223.6 276.2,220.0 276.9,216.3 277.7,212.3 278.5,208.3 279.3,204.3 280.1,200.4 280.9,196.5 281.7,192.9 282.4,189.3 283.2,185.7 283.9,182.0 284.7,178.5 285.4,175.0 286.2,171.7 287.0,168.6 287.7,165.8 288.5,163.4 289.2,161.3 290.0,159.5 290.8,158.0 291.6,156.7 292.4,155.5 293.2,154.6 293.9,153.7 294.6,152.9 295.3,152.0 296.2,150.9 297.0,150.0 297.7,149.3 298.4,148.8 299.1,148.6 299.8,148.6 300.6,149.0 301.3,149.7 302.1,150.7 302.8,151.8 303.6,153.1 304.3,154.3 305.1,155.5 305.8,156.7 306.5,158.1 307.2,159.6 308.0,161.3 308.9,163.4 309.6,165.0 310.3,166.8 311.1,168.8 311.9,170.8 312.7,173.0 313.5,175.2 314.3,177.3 315.0,179.5 315.7,181.5 316.6,184.6 317.4,187.6 318.1,190.6 318.8,193.6 319.5,196.7 320.2,199.7 321.0,203.0 321.7,206.5 322.4,210.1 323.1,213.3 323.8,216.0 324.5,217.9 325.3,218.8 326.0,219.1 326.8,218.8 327.6,218.1 328.3,217.0 329.1,215.6 329.8,214.1 330.6,212.6 331.3,210.8 332.1,208.2 332.9,204.6 333.6,199.7 334.4,192.8 335.1,184.0 335.9,174.2 336.6,164.2 337.4,155.0 338.2,147.5 338.9,141.6 339.7,136.5 340.4,132.3 341.2,128.6 341.9,125.4 342.7,122.5 343.4,120.0 344.2,118.0 345.0,116.5 345.7,115.4 346.5,114.8 347.2,114.6 348.0,114.8 348.7,115.4 349.5,116.5 350.3,118.0 351.0,120.0 351.8,122.5 352.5,125.7 353.3,129.4 354.1,133.7 354.9,138.2 355.6,142.9 356.3,147.5 357.3,155.0 358.2,163.1 359.0,170.8 359.7,177.0 360.5,183.2 361.2,187.4 362.0,188.4 362.8,186.3 363.6,182.1 364.5,176.5 365.4,170.2 366.2,162.6 367.1,153.6 368.0,144.4 368.8,136.2 369.6,128.5 370.3,121.1 371.0,115.0 371.7,111.2 372.7,110.3 373.6,112.9 374.5,118.0 375.3,125.7 376.0,136.0 376.7,147.5 377.5,161.5 378.3,176.8 379.0,188.4 379.9,196.3 380.8,195.2 381.6,187.8 382.5,176.1 383.5,163.4 384.4,153.0 385.3,141.4 386.2,130.6 386.9,122.5 387.9,115.3 388.8,115.7 389.6,119.9 390.5,127.2 391.5,136.2 392.3,144.5 393.1,154.2 394.0,164.1 394.9,172.5 395.7,179.9 396.6,186.9 397.4,192.0 398.3,194.0 399.1,192.1 399.9,187.1 400.8,180.2 401.7,172.5 402.5,165.1 403.3,156.3 404.1,147.1 405.0,138.5 405.8,131.6 406.6,126.4 407.4,122.2 408.1,118.9 408.9,116.8 409.6,115.7 410.5,116.3 411.4,118.7 412.2,122.5 413.0,127.1 413.9,132.3 414.7,138.6 415.6,145.9 416.4,154.3 417.3,164.7 418.2,176.7 419.0,188.9 419.8,199.7 420.8,212.8 421.7,224.4 422.6,231.5 423.3,232.6 424.1,229.3 424.8,222.4 425.5,214.7 426.2,204.8 427.0,193.5 427.8,181.5 428.6,168.5 429.5,154.0 430.3,139.7 431.2,127.1 432.1,115.8 433.0,105.4 433.8,96.7 434.6,90.8 435.4,87.7 436.2,88.8 436.9,93.0 437.6,100.1 438.3,110.2 439.1,122.5 439.9,134.3 440.7,148.2 441.4,161.7 442.1,172.5 442.9,185.8 443.7,190.6 444.4,188.8 445.2,182.9 445.9,172.5 446.7,155.3 447.4,133.6 448.2,113.5 448.9,99.8 449.7,86.2 450.4,75.0 451.2,68.1 452.1,67.4 453.0,73.3 453.9,81.7 454.6,91.9 455.3,104.7 456.2,118.0 456.9,128.4 457.8,139.6 458.7,150.1 459.6,158.9 460.4,167.4 461.1,175.9 462.0,180.3 463.0,177.0 463.7,169.5 464.4,157.8 465.3,143.4 466.1,128.0 467.0,113.0 467.7,100.1 468.4,90.8 469.3,82.1 470.0,79.0 470.7,78.9 471.4,79.4 472.3,80.3 473.2,83.6 474.1,90.8 474.9,103.5 475.6,120.1 476.3,136.2 477.1,150.9 477.9,165.1 478.6,177.0 479.4,186.3 480.1,193.4 480.9,197.4 481.6,198.1 482.4,195.7 483.2,190.6 483.9,182.8 484.7,172.2 485.4,158.9 486.2,141.8 486.9,122.0 487.7,102.1 488.4,81.7 489.2,61.3 490.0,45.4 490.7,36.4 491.4,31.9 492.2,29.5 493.0,28.8 493.9,29.4 494.8,30.7 495.6,31.8 496.5,32.8 497.3,34.0 498.2,34.9 499.0,35.2 499.9,34.5 500.7,33.3 501.6,31.5 502.4,29.5 503.3,27.2 504.1,24.5 505.0,21.4 505.8,18.2 506.7,14.1 507.6,9.4 508.5,5.1 509.3,2.3 510.1,0.7 510.8,1.1 511.5,4.5 512.3,11.3 513.0,21.2 513.8,34.0 514.5,50.5 515.3,70.0 516.1,90.8 516.8,113.3 517.6,137.1 518.3,158.9 519.1,179.7 519.8,198.5 520.6,208.8 521.4,207.8 522.2,198.2 522.9,181.5 523.7,138.0 524.5,90.8 525.3,57.6 526.3,34.0 527.2,22.1 528.1,20.4 528.8,24.3 529.6,32.4 530.4,45.4 531.1,76.7 531.9,113.5 532.6,137.2 533.4,160.9 534.2,181.5 534.9,195.1 535.7,207.4 536.5,217.0 537.2,222.4 538.0,222.6 538.7,216.2 539.4,204.2 540.2,185.2 540.9,160.7 541.7,136.2 542.6,112.6 543.5,89.1 544.4,68.1 545.3,50.3 546.2,35.1 547.1,22.7 547.9,15.3 548.7,9.5 549.4,5.2 550.1,2.3 550.9,1.1 551.6,2.4 552.4,4.5 553.1,6.9 553.8,10.0 554.6,13.6 555.4,16.8 556.3,20.5 557.2,24.1 558.0,27.2 558.9,29.9 559.7,32.4 560.6,34.3 561.4,35.2 562.3,34.7 563.2,33.0 564.1,31.1 564.8,29.5 565.8,28.1 566.6,26.9 567.1,26.1" fill="none" stroke="#8c8c8c" stroke-opacity="0.85" stroke-width="0.9"/></g><line x1="569.7" y1="0.5" x2="569.7" y2="295.5" stroke="#222" stroke-width="0.7"/><line x1="33" y1="6.3" x2="569" y2="6.3" stroke="#000" stroke-opacity="0.03" stroke-width="1"/></g><path d="M33.4,238.2 33.9,234.3 34.3,231.1 34.8,225.9 35.2,222.0 35.7,218.1 36.1,211.6 36.6,207.0 37.0,201.8 37.5,196.8 37.9,189.6 38.4,192.0 38.9,193.3 39.3,196.8 39.8,198.3 40.2,198.6 40.8,207.7 41.3,214.4 41.9,186.5 42.5,159.1 43.0,144.4 43.5,130.5 44.1,118.1 44.5,92.7 45.0,68.8 45.4,42.8 45.6,40.1 45.8,43.9 46.0,43.1 46.2,46.5 46.4,42.7 46.6,43.4 46.8,41.4 47.0,42.5 47.2,43.8 47.4,45.4 47.6,56.0 47.8,59.4 48.0,61.3 48.2,63.3 48.3,56.4 48.5,52.5 48.7,50.1 48.9,44.9 49.1,48.8 49.3,42.1 49.5,45.3 49.7,39.4 49.9,43.9 50.1,41.5 50.3,31.7 50.5,32.6 50.7,38.3 50.9,32.6 51.1,40.5 51.3,37.4 51.5,36.9 51.7,45.2 51.9,49.5 52.0,47.1 52.2,48.1 52.4,48.8 52.6,53.4 52.8,49.7 53.0,41.6 53.2,41.1 53.4,38.0 53.6,35.9 53.8,41.5 54.0,38.8 54.2,46.0 54.4,48.3 54.6,49.1 54.8,57.9 55.0,55.3 55.2,61.2 55.3,56.7 55.5,60.5 55.7,59.2 55.9,60.5 56.1,68.2 56.3,67.3 56.5,63.1 56.7,69.7 56.9,63.7 57.0,66.3 57.2,71.6 57.4,71.8 57.6,68.6 57.8,79.8 58.0,74.3 58.2,77.0 58.4,84.4 58.6,82.3 58.7,84.2 58.9,84.2 59.1,86.7 59.3,93.9 59.5,92.7 59.7,91.4 59.9,84.1 60.1,80.0 60.3,80.0 60.5,70.3 60.7,66.3 60.9,64.2 61.1,52.4 61.3,54.5 61.5,64.4 61.6,65.9 61.8,62.6 62.0,64.4 62.2,71.8 62.4,75.8 62.5,72.2 62.7,80.6 62.9,82.5 63.1,83.3 63.3,84.8 63.5,85.3 63.7,87.8 63.9,98.3 64.0,95.5 64.2,102.2 64.4,101.7 64.6,109.2 64.8,110.5 65.0,111.1 65.2,113.1 65.4,114.3 65.6,105.9 65.7,103.9 65.9,103.3 66.1,102.5 66.3,97.4 66.5,91.5 66.7,93.4 66.9,84.4 67.1,79.7 67.3,78.5 67.4,76.7 67.6,75.2 67.8,77.6 68.0,80.6 68.2,83.8 68.4,81.8 68.6,85.1 68.8,90.9 69.0,93.1 69.1,92.0 69.3,93.8 69.5,94.5 69.7,92.4 69.9,93.5 70.1,95.2 70.3,104.3 70.5,104.5 70.7,108.5 70.8,102.8 71.0,109.6 71.2,110.3 71.4,114.2 71.6,112.8 71.8,120.1 72.0,114.6 72.2,114.7 72.4,112.5 72.6,110.1 72.8,105.1 73.0,101.2 73.2,98.2 73.4,95.5 73.6,87.3 73.8,93.8 73.9,99.4 74.1,103.0 74.3,103.3 74.5,110.1 74.7,114.6 74.8,116.1 75.0,120.4 75.2,122.3 75.4,127.7 75.6,123.0 75.8,113.9 76.0,113.4 76.1,111.4 76.3,105.5 76.5,99.4 76.7,91.8 76.9,89.6 77.1,83.5 77.3,77.4 77.5,75.7 77.7,64.7 77.8,70.5 78.0,65.1 78.2,70.0 78.4,69.4 78.6,67.8 78.8,71.9 79.0,70.7 79.2,72.0 79.4,74.8 79.5,69.9 79.7,68.3 79.9,71.0 80.1,74.7 80.3,71.6 80.5,72.0 80.7,78.6 80.8,77.3 81.0,76.2 81.2,80.5 81.4,76.7 81.6,80.1 81.7,77.0 81.9,84.8 82.1,93.8 82.3,100.6 82.5,106.3 82.7,108.3 82.9,115.8 83.1,119.7 83.3,124.2 83.5,128.6 83.7,132.8 83.9,134.4 84.1,134.0 84.3,136.4 84.5,135.3 84.7,136.3 84.8,139.0 85.0,139.8 85.2,141.1 85.4,143.4 85.6,145.7 86.1,150.7 86.5,155.4 87.0,162.9 87.4,168.9 87.9,172.3 88.4,154.1 88.9,137.3 89.5,124.0 89.9,129.8 90.4,141.5 90.8,150.1 91.3,158.1 91.7,163.4 92.2,163.7 92.6,167.6 93.1,172.3 93.5,160.0 94.0,152.6 94.4,139.6 94.9,128.7 95.4,117.7 95.8,109.4 96.3,114.2 96.7,120.3 97.2,125.9 97.6,131.9 98.1,138.0 98.5,140.7 99.0,142.5 99.4,147.4 99.9,150.0 100.3,153.9 100.8,158.8 101.3,160.5 101.7,160.3 102.2,161.7 102.6,163.0 103.0,161.9 103.5,159.5 103.9,157.7 104.3,156.1 104.7,153.2 105.2,152.2 105.6,150.5 106.0,146.5 106.5,150.8 106.9,152.6 107.4,153.4 107.8,156.5 108.3,159.2 108.7,158.0 109.2,154.9 109.7,153.6 110.1,152.5 110.6,150.5 111.0,157.2 111.5,162.4 111.9,169.2 112.4,174.5 112.8,182.1 113.3,190.5 113.7,198.2 114.2,206.6 114.6,213.5 115.1,223.4 115.5,221.9 115.9,220.3 116.4,217.6 116.8,216.6 117.2,213.9 117.6,213.6 118.0,211.9 118.6,216.7 119.1,222.1 119.6,229.1 120.1,228.4 120.5,228.0 121.0,226.4 121.5,224.4 121.9,225.4 122.4,227.7 122.8,233.5 123.3,236.1 123.7,240.6 124.2,245.8 124.7,229.5 125.3,214.7 125.8,199.7 126.2,184.3 126.7,168.7 127.1,152.5 127.6,137.2 128.0,127.1 128.5,119.1 128.9,107.9 129.4,99.2 129.8,90.8 130.3,84.8 130.8,80.4 131.2,74.8 131.7,69.0 132.1,64.4 132.6,61.4 133.2,58.5 133.7,56.4 134.2,58.7 134.6,60.0 135.1,59.4 135.5,62.1 136.1,65.8 136.7,68.1 137.1,69.6 137.6,70.1 138.0,72.2 138.5,73.5 138.9,75.1 139.4,73.8 139.8,76.0 140.3,74.9 140.7,74.6 141.2,75.6 141.6,72.8 142.1,70.3 142.6,68.5 143.0,64.8 143.5,63.6 143.9,62.0 144.4,61.9 144.8,60.5 145.3,57.5 145.7,56.7 146.3,51.3 146.8,47.5 147.3,43.9 147.8,52.0 148.2,58.9 148.7,66.5 149.1,74.1 149.6,72.0 150.0,69.6 150.5,64.5 151.0,62.8 151.4,57.9 151.9,53.2 152.3,48.1 152.8,44.1 153.2,38.2 153.8,47.3 154.3,57.0 154.8,64.9 155.3,66.8 155.7,65.8 156.2,67.2 156.6,67.0 157.1,67.4 157.5,64.5 158.0,60.7 158.4,56.9 158.9,53.3 159.3,50.0 159.8,57.3 160.3,65.6 160.7,74.7 161.2,82.9 161.6,90.8 162.2,98.4 162.8,104.7 163.2,98.0 163.7,89.2 164.1,83.2 164.6,76.1 165.0,69.0 165.5,72.2 165.9,76.7 166.4,82.7 166.8,85.6 167.3,92.0 167.7,95.3 168.2,97.2 168.7,101.0 169.1,105.8 169.6,108.3 170.0,108.9 170.5,111.5 170.9,111.5 171.4,113.3 171.8,112.6 172.3,116.1 172.7,119.6 173.1,120.8 173.5,124.1 174.0,128.1 174.4,131.5 174.8,134.4 175.2,135.2 175.7,140.4 176.1,145.3 176.5,148.9 176.9,153.6 177.4,156.7 177.8,160.7 178.2,165.0 178.6,169.1 179.1,155.9 179.5,141.5 180.0,127.2 180.4,129.3 180.9,132.4 181.4,135.4 181.8,148.3 182.3,160.0 182.7,165.9 183.2,170.0 183.6,176.0 184.1,183.8 184.5,188.3 185.0,179.2 185.4,168.3 185.9,158.8 186.3,161.2 186.8,163.2 187.3,167.4 187.7,169.8 188.2,175.2 188.7,159.7 189.2,142.2 189.8,127.0 190.3,114.0 190.9,99.6 191.5,92.3 192.0,85.4 192.5,84.9 192.9,82.3 193.4,83.1 193.8,81.5 194.3,79.9 194.9,99.6 195.4,118.3 196.0,129.1 196.6,140.9 197.1,131.6 197.7,123.7 198.3,135.8 198.8,146.9 199.4,154.2 200.0,159.4 200.4,158.4 200.9,157.3 201.3,155.2 201.8,155.3 202.2,166.6 202.7,177.5 203.1,173.1 203.6,168.6 204.0,163.2 204.6,179.8 205.2,194.1 205.7,214.1 206.3,233.7 206.8,207.6 207.4,183.5 207.9,159.2 208.5,136.5 209.0,112.8 209.5,111.1 209.9,107.1 210.4,102.9 210.9,100.2 211.4,90.9 212.0,81.8 212.6,74.6 213.1,69.3 213.7,65.6 214.3,62.9 214.8,67.2 215.3,71.9 215.8,73.7 216.4,78.6 217.0,82.3 217.4,83.8 217.9,86.9 218.3,88.8 218.8,91.9 219.3,95.0 219.7,100.7 220.2,107.4 220.6,115.3 221.1,120.8 221.5,127.1 222.0,110.0 222.6,90.9 223.1,73.8 223.6,63.9 224.0,55.2 224.5,44.4 225.0,52.4 225.5,59.6 226.1,64.7 226.6,54.4 227.2,40.0 227.7,49.1 228.3,56.7 228.8,65.8 229.2,64.4 229.7,61.3 230.1,61.8 230.6,58.8 231.2,68.1 231.7,77.4 232.2,82.5 232.6,88.0 233.1,94.5 233.5,100.0 234.1,108.4 234.6,118.5 235.1,126.6 235.7,127.4 236.2,129.5 236.7,130.5 237.2,133.8 237.6,138.3 238.1,140.4 238.6,140.1 239.1,138.3 239.7,135.1 240.2,119.2 240.8,100.9 241.3,93.5 241.9,90.2 242.4,83.8 242.9,89.0 243.3,95.3 243.8,98.7 244.2,104.4 244.7,114.5 245.3,123.1 245.8,131.5 246.3,136.7 246.7,140.3 247.2,143.8 247.6,146.6 248.1,149.2 248.5,150.1 249.0,150.9 249.4,151.9 249.9,154.4 250.4,158.7 250.9,164.8 251.5,170.6 251.9,158.7 252.4,146.9 252.8,136.4 253.3,124.6 253.8,127.7 254.3,129.4 254.9,132.8 255.3,142.9 255.8,152.6 256.2,161.6 256.7,171.5 257.3,180.2 257.8,186.8 258.4,197.0 258.9,206.9 259.4,217.3 259.9,192.6 260.3,166.6 260.8,140.9 261.3,161.4 261.9,182.2 262.4,184.6 263.0,188.5 263.5,194.0 264.0,196.2 264.4,198.3 264.9,198.6 265.3,200.9 265.8,203.7 266.2,205.9 266.7,208.2 267.1,208.7 267.6,211.6 268.0,212.3 268.5,214.1 268.9,217.4 269.4,218.9 269.9,220.9 270.3,222.1 270.8,234.5 271.2,246.1 271.7,258.6 272.1,271.8 272.7,254.2 273.2,234.6 273.7,216.9 274.3,183.4 274.8,147.8 275.4,156.5 275.9,163.5 276.4,172.3 277.0,136.7 277.6,102.9 278.3,74.6 278.8,77.5 279.3,80.6 279.8,81.3 280.3,89.8 280.7,98.2 281.2,106.5 281.7,113.3 282.1,113.2 282.6,112.5 283.0,114.4 283.5,112.5 284.0,104.9 284.5,98.5 285.1,90.7 285.6,90.1 286.2,88.0 286.7,82.4 287.3,73.9 287.8,67.4 288.2,62.8 288.7,55.7 289.1,50.6 289.6,45.9 290.1,45.1 290.7,43.4 291.2,42.3 291.6,51.1 292.1,60.3 292.5,67.8 293.1,71.7 293.6,77.7 294.1,81.9 294.6,81.8 295.0,80.9 295.5,80.0 296.0,77.9 296.4,77.9 296.9,75.8 297.3,74.9 297.8,74.2 298.2,74.6 298.7,73.6 299.2,78.1 299.7,84.4 300.3,90.4 300.7,99.5 301.2,108.7 301.6,117.7 302.2,121.8 302.7,127.2 303.2,132.3 303.7,131.7 304.1,132.4 304.6,131.8 305.0,130.8 305.5,132.2 306.1,141.6 306.6,149.2 307.1,151.3 307.5,155.3 308.0,158.0 308.4,160.8 308.9,164.5 309.4,164.5 309.9,165.6 310.5,164.6 310.9,171.1 311.4,176.9 311.8,180.5 312.4,188.1 312.9,197.2 313.4,205.2 313.9,206.0 314.3,210.0 314.8,211.6 315.2,215.7 315.7,218.2 316.1,220.9 316.6,224.4 317.1,229.4 317.5,232.4 318.0,236.6 318.4,234.4 318.9,232.9 319.3,233.0 319.8,231.0 320.2,229.2 320.7,232.7 321.1,236.5 321.7,232.0 322.3,227.9 322.8,235.2 323.4,244.7 323.9,240.2 324.5,236.5 325.0,232.2 325.4,230.6 325.9,229.0 326.4,227.5 326.8,225.0 327.3,217.9 327.9,211.5 328.4,205.0 329.0,213.1 329.5,222.2 330.0,220.0 330.4,219.9 330.9,219.0 331.4,216.0 332.0,214.0 332.5,212.6 333.0,211.6 333.5,209.8 334.1,209.9 334.5,208.9 335.0,210.6 335.4,211.3 335.9,213.7 336.5,209.4 337.0,203.5 337.6,180.5 338.2,158.8 338.7,143.2 339.3,128.1 339.9,118.0 340.4,110.3 341.0,115.0 341.6,119.6 342.1,103.8 342.7,89.0 343.1,87.6 343.6,85.6 344.1,84.3 344.5,83.4 345.0,79.4 345.6,77.0 346.1,72.2 346.6,73.5 347.2,74.9 347.7,74.8 348.1,73.7 348.6,74.7 349.0,74.2 349.5,72.2 350.0,72.0 350.6,72.2 351.1,70.3 351.5,72.7 352.0,75.3 352.5,80.5 353.0,82.4 353.5,83.7 354.0,86.3 354.6,80.6 355.2,74.3 355.7,78.3 356.3,79.8 356.9,72.0 357.4,64.6 358.0,61.2 358.6,56.4 359.1,69.9 359.7,82.2 360.3,84.2 360.8,85.4 361.4,71.8 362.0,58.6 362.5,55.0 363.1,53.1 363.7,62.4 364.3,72.9 364.8,82.9 365.4,90.2 366.0,85.2 366.5,78.6 367.1,81.2 367.7,80.5 368.2,91.5 368.8,100.7 369.4,118.8 369.9,135.2 370.5,149.2 371.1,163.9 371.6,149.9 372.2,138.4 372.7,140.6 373.3,144.1 373.8,145.4 374.2,137.0 374.7,126.6 375.1,118.7 375.7,114.4 376.3,112.2 376.8,122.7 377.4,136.9 378.0,137.7 378.5,140.8 379.1,138.5 379.7,135.3 380.2,140.0 380.7,141.8 381.3,144.8 381.7,154.8 382.2,165.9 382.6,176.9 383.1,170.7 383.5,163.1 384.1,159.3 384.6,153.4 385.1,149.5 385.6,148.5 386.0,148.6 386.5,147.2 386.9,145.6 387.4,142.2 387.9,141.3 388.3,140.3 388.8,137.3 389.2,136.3 389.8,132.7 390.3,128.2 390.8,132.8 391.3,134.6 391.7,135.5 392.2,138.7 392.7,140.2 393.2,142.7 393.8,145.3 394.2,145.2 394.7,145.8 395.1,146.3 395.6,147.4 396.0,146.9 396.5,145.1 396.9,144.7 397.4,142.0 397.8,141.8 398.4,145.4 398.9,150.3 399.4,153.9 399.9,156.2 400.3,155.6 400.8,156.9 401.2,157.9 401.8,162.3 402.3,165.4 402.8,167.2 403.4,166.2 403.9,165.7 404.4,163.6 404.9,159.0 405.3,155.9 405.8,152.4 406.2,148.9 406.7,145.0 407.1,139.7 407.6,137.2 408.0,131.4 408.6,127.9 409.1,124.4 409.6,120.9 410.1,119.3 410.5,116.6 411.0,114.8 411.5,113.3 412.0,110.0 412.6,108.7 413.0,98.1 413.5,87.4 413.9,75.6 414.4,63.9 414.9,52.5 415.3,61.2 415.8,72.2 416.2,73.8 416.7,76.0 417.1,76.2 417.7,81.4 418.3,86.3 418.8,91.5 419.4,96.1 419.8,91.0 420.3,85.4 420.9,84.6 421.4,82.7 422.0,87.5 422.6,92.7 423.1,89.6 423.7,85.4 424.3,82.2 424.8,78.3 425.3,86.3 425.7,95.8 426.2,102.2 426.7,106.7 427.1,114.5 427.7,116.0 428.2,117.3 428.8,126.1 429.4,135.5 429.9,154.5 430.5,172.9 431.1,163.0 431.6,155.3 432.1,155.1 432.6,156.5 433.0,156.8 433.5,160.0 434.0,162.5 434.5,168.9 435.1,172.6 435.5,174.9 436.0,177.1 436.4,178.7 436.9,182.5 437.3,181.8 437.8,180.5 438.2,179.1 438.7,177.0 439.1,177.8 439.6,175.4 440.0,175.7 440.5,173.0 441.0,172.6 441.5,174.0 442.0,173.2 442.5,174.9 443.0,174.9 443.4,175.9 443.9,177.4 444.4,180.4 444.8,178.6 445.3,176.2 445.7,173.7 446.2,172.9 446.7,157.2 447.2,140.4 447.8,125.0 448.3,106.3 448.9,85.1 449.4,94.6 450.0,104.3 450.5,112.6 451.1,129.1 451.6,145.4 452.1,153.5 452.7,163.4 453.2,171.9 453.8,161.3 454.3,149.4 454.8,142.5 455.2,133.5 455.7,127.5 456.3,130.8 456.8,137.3 457.4,127.3 458.0,117.9 458.4,111.0 458.9,104.7 459.3,112.4 459.8,120.1 460.2,127.7 460.8,130.1 461.3,134.3 461.8,137.0 462.4,141.5 462.9,145.0 463.4,149.6 463.9,152.2 464.3,155.3 464.8,156.6 465.2,158.9 465.8,167.8 466.4,178.0 466.8,185.7 467.3,186.9 467.9,190.4 468.4,192.7 468.9,188.9 469.5,185.2 470.0,182.1 470.4,179.9 470.9,179.5 471.4,177.1 471.8,176.1 472.3,174.6 472.7,172.5 473.2,169.9 473.6,166.9 474.1,166.1 474.5,163.5 475.0,160.5 475.4,158.4 475.9,156.3 476.3,153.7 476.8,149.9 477.3,148.5 477.7,145.2 478.2,141.1 478.7,132.5 479.2,122.4 479.8,114.2 480.3,95.8 480.9,80.0 481.5,78.5 482.0,78.1 482.6,70.5 483.2,66.5 483.6,63.2 484.1,62.5 484.5,61.8 485.0,57.8 485.5,59.1 486.0,60.0 486.6,60.9 487.1,58.0 487.7,57.7 488.2,54.5 488.8,50.4 489.3,47.3 489.8,51.3 490.4,53.4 490.9,55.6 491.3,60.0 491.8,60.8 492.3,58.2 492.8,56.3 493.4,53.3 493.9,56.7 494.5,60.6 495.0,57.8 495.6,56.2 496.1,53.1 496.7,48.1 497.2,46.2 497.7,47.9 498.1,51.0 498.6,53.1 499.0,57.6 499.6,62.5 500.1,65.1 500.6,70.7 501.1,63.6 501.5,59.2 502.0,51.1 502.6,45.6 503.1,41.4 503.7,48.3 504.3,57.7 504.8,53.1 505.4,48.2 506.0,49.0 506.5,52.7 507.1,43.0 507.7,31.6 508.2,25.1 508.8,19.8 509.4,25.6 509.9,32.3 510.5,37.1 511.0,43.1 511.5,49.3 512.1,59.4 512.7,68.8 513.2,75.7 513.8,84.4 514.4,96.2 514.9,106.9 515.5,111.7 516.1,117.5 516.6,115.6 517.2,111.6 517.8,124.3 518.3,138.8 518.9,125.0 519.5,114.6 520.0,117.9 520.6,122.6 521.1,121.1 521.7,118.4 522.2,118.2 522.6,120.5 523.1,123.5 523.5,127.8 524.1,129.9 524.6,134.1 525.1,139.0 525.7,145.8 526.3,153.8 526.8,149.9 527.4,144.5 527.9,147.7 528.5,149.4 529.0,148.7 529.4,151.4 529.9,153.8 530.4,154.6 530.8,157.6 531.3,151.5 531.7,145.6 532.2,141.4 532.6,136.5 533.2,138.1 533.7,141.1 534.2,143.6 534.7,142.2 535.3,141.5 535.8,141.5 536.3,144.2 536.7,146.8 537.2,150.9 537.7,142.9 538.2,138.3 538.8,130.8 539.3,130.4 539.8,128.0 540.3,126.9 540.8,125.5 541.2,123.2 541.7,121.0 542.2,117.4 542.7,122.5 543.3,126.4 543.9,89.8 544.4,52.2 545.0,64.7 545.6,79.7 546.1,94.7 546.7,109.1 547.3,104.1 547.8,96.8 548.4,95.2 548.9,93.4 549.4,93.0 549.9,93.5 550.3,94.0 550.8,94.2 551.2,96.0 551.7,93.1 552.1,94.0 552.6,92.1 553.0,90.9 553.6,90.7 554.1,88.6 554.6,87.7 555.2,91.5 555.8,94.2 556.3,100.5 556.9,106.9 557.5,99.9 558.0,92.5 558.6,85.3 559.2,76.2 559.7,66.6 560.3,53.7 560.9,45.9 561.4,37.8 562.0,42.4 562.6,46.2 563.0,46.1 563.5,44.3 563.9,45.2 564.4,45.1 564.9,45.5 565.5,48.0 566.0,46.6 566.5,48.4 567.0,49.8 567.6,51.1 568.0,49.8 568.5,51.3 568.9,52.8 569.4,53.4 569.8,56.1 570.4,65.6 571.0,71.8 571.5,74.6 572.1,76.7 572.7,86.1 573.2,94.3 573.8,103.3 574.4,114.7 574.9,119.8 575.5,125.4 576.1,115.1 576.6,106.1 577.2,112.5 577.8,117.4 578.4,127.0 578.9,137.2 579.4,131.3 579.8,126.7 580.3,123.7 580.7,118.3 581.3,119.9 581.8,123.8 582.3,127.4 582.9,136.2 583.5,147.1 584.0,155.9 584.6,164.3 585.2,157.9 585.7,153.0 586.2,157.2 586.6,162.4 587.1,168.8 587.6,171.4 588.1,176.2 588.7,178.6 589.2,180.4 589.7,181.5 590.3,183.9 590.7,184.7 591.2,186.5 591.6,188.2 592.1,190.5 592.5,194.7 593.0,199.6 593.4,205.4 593.9,209.2 594.3,210.8 594.8,210.3 595.4,196.0 595.9,180.5 596.5,166.1 597.1,149.4 597.5,135.6 598.0,121.4 598.4,108.2 599.0,101.5 599.6,95.1 600.1,88.4 600.7,79.9 601.2,73.2 601.6,67.7 602.2,68.4 602.7,71.4 603.2,69.3 603.7,69.5 604.1,68.6 604.7,71.3 605.2,71.5 605.8,75.6 606.4,79.1 606.8,86.2" fill="none" stroke="#000" stroke-width="1.1" stroke-linejoin="round"/><path d="M45.4,42.8 45.6,40.1 45.8,43.9 46.0,43.1 46.2,46.5 46.4,42.7 46.6,43.4 46.8,41.4 47.0,42.5 47.2,43.8 47.4,45.4 47.6,56.0 47.8,59.4 48.0,61.3 48.2,63.3 48.3,56.4 48.5,52.5 48.7,50.1 48.9,44.9 49.1,48.8 49.3,42.1 49.5,45.3 49.7,39.4 49.9,43.9 50.1,41.5 50.3,31.7 50.5,32.6 50.7,38.3 50.9,32.6 51.1,40.5 51.3,37.4 51.5,36.9 51.7,45.2 51.9,49.5 52.0,47.1 52.2,48.1 52.4,48.8 52.6,53.4 52.8,49.7 53.0,41.6 53.2,41.1 53.4,38.0 53.6,35.9 53.8,41.5 54.0,38.8 54.2,46.0 54.4,48.3 54.6,49.1 54.8,57.9 55.0,55.3 55.2,61.2 55.3,56.7 55.5,60.5 55.7,59.2 55.9,60.5 56.1,68.2 56.3,67.3 56.5,63.1 56.7,69.7 56.9,63.7 57.0,66.3 57.2,71.6 57.4,71.8 57.6,68.6 57.8,79.8 58.0,74.3 58.2,77.0 58.4,84.4 58.6,82.3 58.7,84.2 58.9,84.2 59.1,86.7 59.3,93.9 59.5,92.7 59.7,91.4 59.9,84.1 60.1,80.0 60.3,80.0 60.5,70.3 60.7,66.3 60.9,64.2 61.1,52.4 61.3,54.5 61.5,64.4 61.6,65.9 61.8,62.6 62.0,64.4 62.2,71.8 62.4,75.8 62.5,72.2 62.7,80.6 62.9,82.5 63.1,83.3 63.3,84.8 63.5,85.3 63.7,87.8 63.9,98.3 64.0,95.5 64.2,102.2 64.4,101.7 64.6,109.2 64.8,110.5 65.0,111.1 65.2,113.1 65.4,114.3 65.6,105.9 65.7,103.9 65.9,103.3 66.1,102.5 66.3,97.4 66.5,91.5 66.7,93.4 66.9,84.4 67.1,79.7 67.3,78.5 67.4,76.7 67.6,75.2 67.8,77.6 68.0,80.6 68.2,83.8 68.4,81.8 68.6,85.1 68.8,90.9 69.0,93.1 69.1,92.0 69.3,93.8 69.5,94.5 69.7,92.4 69.9,93.5 70.1,95.2 70.3,104.3 70.5,104.5 70.7,108.5 70.8,102.8 71.0,109.6 71.2,110.3 71.4,114.2 71.6,112.8 71.8,120.1 72.0,114.6 72.2,114.7 72.4,112.5 72.6,110.1 72.8,105.1 73.0,101.2 73.2,98.2 73.4,95.5 73.6,87.3 73.8,93.8 73.9,99.4 74.1,103.0 74.3,103.3 74.5,110.1 74.7,114.6 74.8,116.1 75.0,120.4 75.2,122.3 75.4,127.7 75.6,123.0 75.8,113.9 76.0,113.4 76.1,111.4 76.3,105.5 76.5,99.4 76.7,91.8 76.9,89.6 77.1,83.5 77.3,77.4 77.5,75.7 77.7,64.7 77.8,70.5 78.0,65.1 78.2,70.0 78.4,69.4 78.6,67.8 78.8,71.9 79.0,70.7 79.2,72.0 79.4,74.8 79.5,69.9 79.7,68.3 79.9,71.0 80.1,74.7 80.3,71.6 80.5,72.0 80.7,78.6 80.8,77.3 81.0,76.2 81.2,80.5 81.4,76.7 81.6,80.1 81.7,77.0 81.9,84.8 82.1,93.8 82.3,100.6 82.5,106.3 82.7,108.3 82.9,115.8 83.1,119.7 83.3,124.2 83.5,128.6 83.7,132.8 83.9,134.4" fill="none" stroke="#000" stroke-width="2.0" stroke-linejoin="round"/><path d="M84.1,134.0 84.3,136.4 84.5,135.3 84.7,136.3 84.8,139.0 85.0,139.8 85.2,141.1 85.4,143.4 85.6,145.7 86.1,150.7 86.5,155.4 87.0,162.9 87.4,168.9 87.9,172.3 88.4,154.1 88.9,137.3 89.5,124.0 89.9,129.8 90.4,141.5 90.8,150.1 91.3,158.1 91.7,163.4 92.2,163.7 92.6,167.6 93.1,172.3 93.5,160.0 94.0,152.6 94.4,139.6 94.9,128.7 95.4,117.7 95.8,109.4 96.3,114.2 96.7,120.3 97.2,125.9 97.6,131.9 98.1,138.0 98.5,140.7 99.0,142.5 99.4,147.4 99.9,150.0 100.3,153.9 100.8,158.8 101.3,160.5 101.7,160.3 102.2,161.7 102.6,163.0" fill="none" stroke="#000" stroke-width="1.5" stroke-linejoin="round"/><path d="M111.0,157.2 111.5,162.4 111.9,169.2 112.4,174.5 112.8,182.1 113.3,190.5 113.7,198.2 114.2,206.6 114.6,213.5 115.1,223.4 115.5,221.9 115.9,220.3 116.4,217.6 116.8,216.6 117.2,213.9 117.6,213.6 118.0,211.9 118.6,216.7 119.1,222.1 119.6,229.1 120.1,228.4 120.5,228.0 121.0,226.4 121.5,224.4 121.9,225.4 122.4,227.7 122.8,233.5 123.3,236.1 123.7,240.6 124.2,245.8 124.7,229.5 125.3,214.7 125.8,199.7 126.2,184.3 126.7,168.7" fill="none" stroke="#000" stroke-width="1.5" stroke-linejoin="round"/><path d="M480.3,95.8 480.9,80.0 481.5,78.5 482.0,78.1 482.6,70.5 483.2,66.5 483.6,63.2 484.1,62.5 484.5,61.8 485.0,57.8 485.5,59.1 486.0,60.0 486.6,60.9 487.1,58.0 487.7,57.7 488.2,54.5 488.8,50.4 489.3,47.3 489.8,51.3 490.4,53.4 490.9,55.6 491.3,60.0 491.8,60.8 492.3,58.2 492.8,56.3 493.4,53.3 493.9,56.7 494.5,60.6 495.0,57.8 495.6,56.2 496.1,53.1 496.7,48.1 497.2,46.2 497.7,47.9 498.1,51.0 498.6,53.1 499.0,57.6 499.6,62.5 500.1,65.1 500.6,70.7 501.1,63.6 501.5,59.2 502.0,51.1 502.6,45.6 503.1,41.4 503.7,48.3 504.3,57.7 504.8,53.1 505.4,48.2 506.0,49.0 506.5,52.7 507.1,43.0 507.7,31.6 508.2,25.1 508.8,19.8 509.4,25.6 509.9,32.3 510.5,37.1 511.0,43.1 511.5,49.3 512.1,59.4 512.7,68.8 513.2,75.7 513.8,84.4 514.4,96.2 514.9,106.9 515.5,111.7 516.1,117.5 516.6,115.6 517.2,111.6 517.8,124.3 518.3,138.8 518.9,125.0 519.5,114.6 520.0,117.9 520.6,122.6 521.1,121.1 521.7,118.4 522.2,118.2 522.6,120.5 523.1,123.5 523.5,127.8 524.1,129.9 524.6,134.1 525.1,139.0 525.7,145.8 526.3,153.8 526.8,149.9 527.4,144.5 527.9,147.7 528.5,149.4 529.0,148.7 529.4,151.4 529.9,153.8" fill="none" stroke="#000" stroke-width="1.4" stroke-linejoin="round"/><path d="M600.1,88.4 600.7,79.9 601.2,73.2 601.6,67.7 602.2,68.4 602.7,71.4 603.2,69.3 603.7,69.5 604.1,68.6 604.7,71.3 605.2,71.5 605.8,75.6 606.4,79.1 606.8,86.2" fill="none" stroke="#000" stroke-width="1.6" stroke-linejoin="round"/>
<g transform="translate(0,333)"><g clip-path="url(#cp)"><g filter="url(#bl)"><use href="#dens"/></g></g></g><g transform="translate(0,333)"><g clip-path="url(#cp2)"><use href="#gl"/></g><line x1="569.7" y1="0.5" x2="569.7" y2="295.5" stroke="#222" stroke-width="0.7"/><line x1="33" y1="6.3" x2="569" y2="6.3" stroke="#000" stroke-opacity="0.03" stroke-width="1"/></g><path d="M33.4,589.4 35.7,578.1 37.9,559.9 39.5,525.9 41.3,469.2 42.9,423.8 44.3,389.7 45.9,367.0 47.5,362.5 48.6,353.4 50.0,342.1 51.1,351.2 52.2,369.3 53.4,378.4 54.5,392.0 55.6,401.1 56.8,403.3 57.9,399.9 59.0,405.6 60.6,417.0 62.2,435.1 64.0,444.2 65.6,446.5 67.0,448.7 68.1,453.3 69.3,455.5 70.4,446.5 72.0,437.4 73.6,428.3 74.7,435.1 75.8,430.6 77.0,435.1 78.1,430.6 79.2,432.8 80.4,432.8 81.7,453.3 83.3,469.2 84.5,487.3 85.6,505.5 86.7,525.9 88.3,516.8 89.7,515.7 90.8,521.4 92.0,530.4 93.1,514.5 94.7,507.7 96.3,500.9 97.6,505.5 98.8,500.9 99.9,510.0 101.0,521.4 102.2,530.4 103.3,541.8 104.9,541.8 106.0,521.4 107.8,510.0 109.4,500.9 111.2,491.9 112.4,489.6 113.3,498.7 114.4,521.4 115.8,544.0 117.4,564.5 119.0,573.5 120.3,569.0 121.5,550.9 122.6,514.5 123.7,469.2 124.9,435.1 126.0,401.1 127.1,378.4 128.0,360.2 129.2,353.4 130.5,351.2 131.7,355.7 132.8,369.3 133.9,382.9 135.1,394.3 136.7,405.6 138.2,407.9 139.4,412.4 140.5,428.3 141.6,428.3 142.8,419.2 144.1,417.0 145.7,420.4 146.9,423.8 148.0,437.4 149.1,446.5 150.3,453.3 151.4,460.1 152.5,464.6 153.7,471.4 154.8,469.2 155.9,473.7 157.1,471.4 158.2,469.2 159.8,462.3 161.2,464.6 162.8,460.1 163.9,457.8 165.0,460.1 166.2,469.2 167.3,476.0 168.9,491.9 170.7,514.5 172.5,537.2 174.1,555.4 175.2,559.9 176.4,546.3 177.5,535.0 178.6,548.6 180.7,559.9 181.8,557.7 183.4,566.7 185.2,564.5 186.8,537.2 188.2,503.2 189.8,469.2 191.3,451.0 192.7,451.0 194.3,455.5 195.9,460.1 197.2,478.2 198.4,496.4 199.5,514.5 200.6,537.2 201.8,550.9 202.9,537.2 204.0,514.5 205.4,491.9 206.3,487.3 207.2,473.7 207.9,446.5 209.0,423.8 210.6,412.4 212.4,414.7 214.0,428.3 215.2,419.2 216.5,410.2 217.7,423.8 218.6,441.9 219.7,444.2 220.8,435.1 222.0,428.3 223.1,437.4 224.2,419.2 225.4,407.9 226.5,423.8 227.6,441.9 229.0,460.1 230.1,480.5 231.7,496.4 233.5,503.2 235.1,500.9 236.7,491.9 238.5,478.2 240.1,471.4 241.5,480.5 243.1,491.9 244.9,498.7 246.5,505.5 248.1,510.0 249.9,514.5 251.7,525.9 253.3,537.2 254.9,548.6 256.7,557.7 258.5,559.9 260.1,562.2 261.7,566.7 263.0,571.3 264.2,559.9 265.3,553.1 266.2,562.2 267.4,571.3 268.5,559.9 269.6,514.5 270.8,469.2 272.1,435.1 273.3,419.2 274.4,414.7 275.5,401.1 276.4,392.0 277.6,394.3 278.9,398.8 280.1,403.3 281.7,405.6 282.8,412.4 283.9,423.8 285.1,419.2 286.2,410.2 287.3,409.0 288.5,414.7 289.6,428.3 290.7,441.9 291.9,460.1 293.0,464.6 294.1,473.7 295.3,491.9 296.4,494.1 297.5,491.9 298.7,487.3 299.8,482.8 300.9,482.8 302.1,491.9 303.2,514.5 304.3,535.0 305.5,535.0 306.6,539.5 307.8,537.2 308.9,546.3 310.0,532.7 311.2,523.6 312.3,537.2 313.4,559.9 314.6,569.0 315.7,569.0 316.8,578.1 318.0,605.3 319.1,607.6 320.2,600.8 321.4,605.3 325.7,537.2 326.8,525.9 327.9,514.5 329.1,510.0 330.2,491.9 331.3,469.2 332.5,446.5 333.6,423.8 334.8,405.6 335.9,378.4 337.0,355.7 338.2,352.3 339.3,355.7 340.4,360.2 341.6,358.0 342.7,362.5 343.8,371.6 345.0,376.1 346.1,382.9 347.2,394.3 348.4,396.5 349.5,394.3 350.6,401.1 351.8,403.3 352.9,399.9 354.0,398.8 355.2,401.1 356.3,405.6 357.4,412.4 358.6,417.0 359.7,421.5 360.8,428.3 362.0,432.8 363.1,437.4 364.3,441.9 365.4,446.5 366.5,460.1 367.7,482.8 368.8,482.8 369.9,491.9 371.1,503.2 372.2,510.0 373.3,521.4 374.5,519.1 375.6,516.8 376.7,523.6 377.9,532.7 379.0,537.2 380.1,541.8 381.3,544.0 382.4,546.3 383.5,553.1 384.7,544.0 385.8,546.3 386.9,541.8 388.1,546.3 389.2,537.2 390.3,532.7 391.5,528.2 392.6,514.5 393.8,496.4 394.9,482.8 396.0,476.0 397.2,478.2 398.3,480.5 399.4,485.0 400.6,487.3 401.7,494.1 402.8,491.9 404.0,494.1 405.1,487.3 406.2,489.6 407.4,485.0 408.5,487.3 409.6,482.8 410.8,478.2 411.9,480.5 413.0,471.4 414.2,464.6 415.3,455.5 416.4,460.1 417.6,464.6 418.7,473.7 419.8,480.5 421.0,476.0 422.1,469.2 423.3,466.9 424.4,462.3 425.5,466.9 426.7,464.6 427.8,469.2 428.9,473.7 430.1,482.8 431.2,491.9 432.3,503.2 433.5,510.0 434.6,519.1 435.7,528.2 436.9,537.2 438.0,548.6 439.1,557.7 440.3,562.2 441.4,559.9 442.5,555.4 443.7,553.1 444.8,550.9 445.9,537.2 447.1,514.5 448.2,491.9 449.3,478.2 450.5,482.8 451.6,491.9 452.8,505.5 453.9,514.5 455.0,521.4 456.2,521.4 457.3,525.9 458.4,532.7 459.6,519.1 460.7,503.2 461.8,505.5 463.0,514.5 464.1,530.4 465.2,544.0 466.4,548.6 467.5,544.0 468.6,544.0 469.5,553.1 470.7,557.7 471.8,537.2 472.9,503.2 474.1,469.2 475.2,435.1 476.3,401.1 477.5,385.2 478.6,378.4 479.8,369.3 480.9,373.8 482.0,385.2 483.2,387.5 484.3,380.7 485.4,389.7 486.6,376.1 487.7,385.2 488.8,401.1 490.0,405.6 491.1,410.2 492.2,421.5 493.4,426.0 494.5,419.2 495.6,426.0 496.8,428.3 497.9,423.8 499.0,432.8 500.2,423.8 501.3,428.3 502.4,435.1 503.6,437.4 504.7,432.8 505.8,435.1 507.0,439.7 508.1,441.9 509.3,446.5 510.4,460.1 511.5,464.6 512.7,455.5 513.8,462.3 514.9,473.7 516.1,487.3 517.2,505.5 518.3,519.1 519.5,532.7 520.6,546.3 521.7,555.4 522.9,557.7 524.0,548.6 525.1,546.3 526.3,550.9 527.4,555.4 528.5,557.7 529.7,553.1 530.8,541.8 531.9,532.7 533.1,525.9 534.2,514.5 535.3,512.3 536.5,496.4 537.6,471.4 538.8,469.2 539.9,455.5 541.0,444.2 542.2,430.6 543.3,423.8 544.4,419.2 545.6,414.7 546.7,423.8 547.8,435.1 549.0,451.0 550.1,457.8 551.2,473.7 552.4,491.9 553.5,496.4 554.6,498.7 555.8,500.9 556.9,491.9 558.0,487.3 559.2,489.6 560.3,478.2 561.4,466.9 562.6,460.1 563.7,451.0 564.8,444.2 566.0,441.9 567.1,443.1 568.3,448.7 569.4,460.1 570.5,466.9 571.7,471.4 572.8,473.7 573.9,480.5 575.1,487.3 576.2,491.9 577.3,500.9 578.5,505.5 579.6,514.5 580.7,530.4 581.9,541.8 583.0,550.9 584.1,559.9 585.3,562.2 586.4,557.7 587.5,553.1 588.7,548.6 589.8,550.9 590.9,537.2 592.1,532.7 593.2,523.6 594.3,491.9 595.5,446.5 596.6,419.2 597.8,417.0 598.9,419.2 600.0,407.9 600.7,403.3 601.6,407.9 602.5,410.2" fill="none" stroke="#000" stroke-width="1.1" stroke-linejoin="round"/>
<g transform="translate(0,666)"><g clip-path="url(#cp)"><g filter="url(#bl)"><use href="#dens"/></g></g></g><g transform="translate(0,666)"><g clip-path="url(#cp2)"><use href="#gl"/></g><line x1="569.7" y1="0.5" x2="569.7" y2="295.5" stroke="#222" stroke-width="0.7"/><line x1="33" y1="6.3" x2="569" y2="6.3" stroke="#000" stroke-opacity="0.03" stroke-width="1"/></g><path d="M33.4,772.7 34.0,775.0 34.6,781.8 35.2,792.3 35.9,805.6 36.5,820.3 37.1,835.0 37.7,848.3 38.3,858.9 38.9,865.6 39.5,868.0 40.1,866.7 40.7,863.0 41.3,856.9 42.0,848.8 42.6,839.0 43.2,828.0 43.8,816.1 44.4,804.1 45.0,792.2 45.6,781.2 46.2,771.4 46.8,763.3 47.4,757.2 48.0,753.5 48.6,752.2 49.2,753.1 49.9,755.8 50.5,760.0 51.1,765.6 51.7,772.0 52.4,778.9 53.0,785.8 53.6,792.2 54.2,797.8 54.8,802.0 55.5,804.7 56.1,805.6 56.7,805.3 57.4,804.5 58.0,803.2 58.6,801.6 59.3,799.9 59.9,798.1 60.5,796.6 61.2,795.3 61.8,794.5 62.5,794.2 63.1,794.7 63.7,796.2 64.3,798.7 64.9,802.0 65.6,806.1 66.2,810.7 66.8,815.7 67.4,820.9 68.1,826.1 68.7,831.1 69.3,835.7 69.9,839.7 70.6,843.0 71.2,845.5 71.8,847.0 72.4,847.5 73.0,846.5 73.6,843.5 74.2,838.7 74.8,832.1 75.4,824.0 76.0,814.7 76.6,804.5 77.2,793.8 77.8,782.8 78.4,772.1 79.0,761.9 79.6,752.6 80.2,744.5 80.8,738.0 81.4,733.1 82.0,730.1 82.6,729.1 83.3,730.8 83.9,735.7 84.5,743.6 85.1,754.2 85.7,766.8 86.3,780.9 87.0,795.7 87.6,810.5 88.2,824.6 88.8,837.2 89.4,847.8 90.0,855.7 90.7,860.6 91.3,862.3 91.9,860.5 92.5,855.4 93.1,847.2 93.8,836.5 94.4,824.0 95.0,810.7 95.6,797.3 96.3,784.9 96.9,774.2 97.5,766.0 98.1,760.8 98.8,759.0 99.4,761.2 100.0,767.5 100.7,777.5 101.3,790.5 102.0,805.7 102.6,822.0 103.3,838.3 103.9,853.5 104.5,866.5 105.2,876.5 105.8,882.8 106.5,885.0 107.1,882.2 107.7,874.0 108.3,860.9 108.9,843.7 109.5,823.3 110.1,800.9 110.8,777.8 111.4,755.4 112.0,735.0 112.6,717.7 113.2,704.6 113.8,696.5 114.4,693.7 115.0,696.8 115.6,705.9 116.3,720.5 116.9,739.8 117.5,762.6 118.1,787.6 118.7,813.3 119.3,838.3 119.9,861.1 120.5,880.4 121.1,895.0 121.7,904.1 122.4,907.2 123.0,904.9 123.7,898.0 124.3,887.0 124.9,872.5 125.6,855.4 126.2,836.6 126.9,817.2 127.5,798.4 128.2,781.3 128.8,766.8 129.5,755.8 130.1,748.9 130.8,746.6 131.4,748.1 132.0,752.6 132.7,759.7 133.3,769.0 134.0,779.8 134.6,791.4 135.3,803.0 135.9,813.8 136.5,823.1 137.2,830.2 137.8,834.7 138.5,836.2 139.1,835.0 139.8,831.3 140.4,825.5 141.1,817.8 141.7,808.7 142.3,798.8 143.0,788.5 143.6,778.6 144.3,769.5 144.9,761.8 145.6,756.0 146.2,752.3 146.9,751.1 147.5,752.7 148.1,757.3 148.8,764.8 149.4,774.7 150.0,786.8 150.7,800.5 151.3,815.1 152.0,830.1 152.6,844.7 153.2,858.3 153.9,870.4 154.5,880.4 155.1,887.9 155.8,892.5 156.4,894.1 157.0,891.7 157.7,884.9 158.3,873.8 158.9,859.2 159.6,841.6 160.2,822.0 160.8,801.4 161.5,780.7 162.1,761.1 162.7,743.6 163.4,728.9 164.0,717.8 164.6,711.0 165.2,708.7 165.9,711.5 166.5,719.9 167.2,733.2 167.8,750.5 168.5,770.6 169.1,792.3 169.8,813.9 170.4,834.1 171.0,851.4 171.7,864.7 172.3,873.1 173.0,875.9 173.6,873.5 174.2,866.3 174.8,854.8 175.5,839.9 176.1,822.5 176.7,803.9 177.3,785.2 178.0,767.8 178.6,752.9 179.2,741.5 179.8,734.3 180.4,731.8 181.1,735.2 181.7,745.1 182.4,760.9 183.0,781.5 183.7,805.4 184.3,831.1 184.9,856.8 185.6,880.7 186.2,901.3 186.9,917.1 187.5,927.0 188.2,930.4 188.8,927.3 189.4,918.2 190.0,903.6 190.6,884.1 191.2,860.8 191.9,834.8 192.5,807.5 193.1,780.1 193.7,754.2 194.3,730.9 194.9,711.4 195.6,696.8 196.2,687.7 196.8,684.6 197.4,687.9 198.1,697.4 198.7,712.6 199.4,732.4 200.0,755.5 200.6,780.3 201.3,805.0 201.9,828.1 202.6,847.9 203.2,863.1 203.9,872.7 204.5,875.9 205.1,874.1 205.7,869.0 206.4,860.7 207.0,850.0 207.6,837.5 208.2,824.1 208.9,810.6 209.5,798.1 210.1,787.4 210.7,779.1 211.4,774.0 212.0,772.2 212.6,773.2 213.2,776.2 213.8,781.0 214.4,787.2 215.0,794.7 215.7,802.8 216.3,811.2 216.9,819.4 217.5,826.8 218.1,833.1 218.7,837.9 219.3,840.9 219.9,841.9 220.6,841.0 221.2,838.4 221.8,834.2 222.4,828.5 223.1,821.6 223.7,813.6 224.3,804.8 225.0,795.5 225.6,786.1 226.2,776.8 226.8,768.1 227.5,760.0 228.1,753.1 228.7,747.4 229.3,743.2 230.0,740.6 230.6,739.8 231.2,741.3 231.8,745.8 232.4,753.1 233.0,762.8 233.6,774.6 234.2,788.0 234.8,802.2 235.4,816.8 236.0,831.1 236.6,844.4 237.3,856.2 237.9,866.0 238.5,873.3 239.1,877.8 239.7,879.3 240.3,877.4 240.9,871.6 241.5,862.3 242.1,850.2 242.7,835.7 243.3,819.9 244.0,803.7 244.6,787.9 245.2,773.5 245.8,761.3 246.4,752.0 247.0,746.3 247.6,744.3 248.2,746.5 248.9,753.1 249.5,763.5 250.1,776.8 250.7,792.0 251.3,807.8 251.9,823.0 252.6,836.3 253.2,846.7 253.8,853.2 254.4,855.5 255.1,853.3 255.7,847.0 256.4,837.0 257.0,823.9 257.6,808.6 258.3,792.3 258.9,775.9 259.6,760.7 260.2,747.6 260.9,737.6 261.5,731.2 262.1,729.1 262.8,731.5 263.4,738.5 264.0,749.8 264.7,764.7 265.3,782.3 265.9,801.6 266.5,821.5 267.2,840.8 267.8,858.4 268.4,873.3 269.1,884.6 269.7,891.7 270.3,894.1 271.0,891.9 271.6,885.6 272.2,875.4 272.9,862.1 273.5,846.2 274.2,828.9 274.8,811.0 275.5,793.7 276.1,777.9 276.8,764.5 277.4,754.4 278.1,748.0 278.7,745.9 279.3,747.1 279.9,750.7 280.6,756.4 281.2,763.7 281.8,772.0 282.4,780.6 283.0,788.9 283.7,796.2 284.3,801.9 284.9,805.5 285.5,806.7 286.2,805.7 286.8,802.9 287.5,798.6 288.1,793.6 288.8,788.7 289.4,784.4 290.1,781.6 290.7,780.6 291.4,781.8 292.0,785.2 292.7,790.5 293.3,797.4 293.9,805.2 294.6,813.4 295.2,821.2 295.8,828.1 296.5,833.5 297.1,836.8 297.8,838.0 298.4,837.1 299.1,834.6 299.7,830.6 300.4,825.6 301.1,820.1 301.7,814.5 302.4,809.5 303.0,805.6 303.7,803.0 304.3,802.2 305.0,802.6 305.6,803.9 306.3,805.7 306.9,807.7 307.6,809.5 308.2,810.8 308.9,811.2 309.5,810.1 310.1,806.8 310.8,801.6 311.4,794.8 312.0,786.8 312.6,778.3 313.3,769.8 313.9,761.9 314.5,755.1 315.1,749.8 315.8,746.5 316.4,745.4 317.0,747.0 317.7,751.8 318.3,759.4 318.9,769.3 319.6,780.7 320.2,793.1 320.9,805.4 321.5,816.9 322.2,826.8 322.8,834.4 323.4,839.1 324.1,840.7 324.7,839.7 325.3,836.9 325.9,832.4 326.5,826.8 327.1,820.5 327.8,814.3 328.4,808.7 329.0,804.2 329.6,801.3 330.2,800.3 330.8,801.2 331.5,803.5 332.1,807.1 332.7,811.6 333.4,816.3 334.0,820.8 334.6,824.4 335.3,826.8 335.9,827.6 336.5,826.4 337.1,823.1 337.8,817.8 338.4,810.9 339.0,802.8 339.6,794.2 340.3,785.6 340.9,777.5 341.5,770.6 342.1,765.3 342.7,762.0 343.4,760.9 344.0,761.9 344.6,764.9 345.2,769.6 345.8,775.6 346.5,782.5 347.1,789.6 347.7,796.5 348.3,802.5 348.9,807.2 349.6,810.2 350.2,811.2 350.8,810.7 351.4,809.1 352.0,806.6 352.6,803.5 353.2,800.3 353.8,797.3 354.4,794.8 355.0,793.2 355.6,792.6 356.3,794.1 356.9,798.3 357.5,805.0 358.2,813.3 358.8,822.6 359.4,831.8 360.1,840.2 360.7,846.8 361.3,851.1 362.0,852.5 362.6,850.8 363.3,845.7 363.9,837.4 364.6,826.6 365.2,813.8 365.9,799.7 366.5,785.3 367.1,771.2 367.8,758.4 368.4,747.6 369.1,739.4 369.7,734.2 370.4,732.5 371.0,734.4 371.6,740.1 372.2,749.2 372.8,761.3 373.4,775.5 374.0,791.1 374.7,807.1 375.3,822.7 375.9,836.9 376.5,848.9 377.1,858.1 377.7,863.8 378.3,865.7 379.0,863.4 379.6,856.5 380.2,845.8 380.9,832.0 381.5,816.3 382.2,799.9 382.8,784.1 383.4,770.3 384.1,759.6 384.7,752.8 385.4,750.4 386.0,752.5 386.6,758.6 387.2,768.4 387.8,781.1 388.4,795.8 389.0,811.7 389.6,827.5 390.2,842.3 390.8,855.0 391.4,864.8 392.0,870.9 392.6,873.0 393.2,870.9 393.8,864.8 394.5,855.2 395.1,842.4 395.7,827.3 396.3,810.7 396.9,793.6 397.5,777.1 398.1,761.9 398.7,749.2 399.3,739.5 399.9,733.4 400.6,731.4 401.2,732.7 401.8,736.5 402.5,742.7 403.1,750.9 403.7,760.7 404.4,771.7 405.0,783.2 405.6,794.7 406.2,805.7 406.9,815.5 407.5,823.7 408.1,829.9 408.8,833.8 409.4,835.1 410.0,834.8 410.6,833.9 411.2,832.5 411.8,830.5 412.4,828.1 413.0,825.2 413.6,822.0 414.3,818.5 414.9,814.8 415.5,810.9 416.1,807.0 416.7,803.2 417.3,799.4 417.9,795.9 418.5,792.7 419.1,789.8 419.7,787.4 420.3,785.5 420.9,784.0 421.5,783.2 422.1,782.9 422.7,783.8 423.4,786.6 424.0,790.9 424.6,796.5 425.2,802.8 425.8,809.4 426.5,815.8 427.1,821.4 427.7,825.7 428.3,828.4 428.9,829.4 429.5,827.6 430.1,822.4 430.7,814.0 431.3,803.2 432.0,790.5 432.6,777.0 433.2,763.4 433.8,750.8 434.4,739.9 435.0,731.6 435.6,726.3 436.2,724.5 436.8,727.3 437.4,735.4 438.1,748.3 438.7,765.3 439.3,785.5 440.0,807.6 440.6,830.3 441.2,852.4 441.8,872.6 442.5,889.6 443.1,902.5 443.7,910.6 444.4,913.4 445.0,910.1 445.6,900.5 446.3,885.3 446.9,865.4 447.6,842.3 448.2,817.5 448.9,792.7 449.5,769.5 450.1,749.7 450.8,734.4 451.4,724.9 452.1,721.6 452.7,724.3 453.3,732.2 453.9,744.9 454.6,761.3 455.2,780.5 455.8,801.0 456.4,821.6 457.1,840.7 457.7,857.2 458.3,869.8 458.9,877.7 459.6,880.4 460.2,877.6 460.8,869.3 461.4,856.1 462.1,838.9 462.7,818.8 463.3,797.3 463.9,775.8 464.6,755.7 465.2,738.5 465.8,725.3 466.4,716.9 467.0,714.1 467.7,717.1 468.3,725.9 469.0,740.0 469.6,758.2 470.3,779.5 470.9,802.4 471.5,825.2 472.2,846.5 472.8,864.8 473.5,878.8 474.1,887.7 474.8,890.7 475.4,888.7 476.0,883.0 476.7,873.8 477.3,861.7 478.0,847.5 478.6,831.8 479.3,815.6 479.9,800.0 480.6,785.7 481.2,773.6 481.9,764.4 482.5,758.7 483.2,756.8 483.8,757.2 484.4,758.3 485.0,760.1 485.6,762.7 486.2,765.8 486.8,769.5 487.4,773.6 488.0,778.1 488.6,782.8 489.2,787.6 489.8,792.5 490.4,797.2 491.0,801.6 491.6,805.8 492.2,809.5 492.8,812.6 493.4,815.1 494.0,817.0 494.6,818.1 495.2,818.5 495.8,817.8 496.5,815.6 497.1,812.2 497.8,807.7 498.4,802.4 499.1,796.5 499.7,790.5 500.3,784.7 501.0,779.4 501.6,774.8 502.3,771.4 502.9,769.3 503.6,768.6 504.2,770.3 504.8,775.2 505.4,783.1 506.0,793.3 506.6,805.2 507.2,818.0 507.8,830.8 508.4,842.8 509.0,853.0 509.6,860.9 510.2,865.8 510.8,867.5 511.5,864.9 512.1,857.3 512.7,845.2 513.3,829.5 514.0,811.2 514.6,791.5 515.2,771.8 515.8,753.5 516.5,737.7 517.1,725.7 517.7,718.1 518.3,715.5 518.9,717.9 519.6,725.2 520.2,736.9 520.8,752.3 521.4,770.5 522.0,790.5 522.6,811.1 523.2,831.1 523.8,849.3 524.4,864.7 525.0,876.3 525.7,883.6 526.3,886.1 526.9,883.8 527.5,876.8 528.1,865.8 528.7,851.5 529.3,834.8 529.9,816.9 530.5,799.0 531.1,782.3 531.7,768.0 532.3,757.0 532.9,750.1 533.5,747.7 534.2,750.1 534.8,757.1 535.5,768.1 536.1,782.2 536.7,798.3 537.4,815.1 538.0,831.2 538.6,845.3 539.3,856.3 539.9,863.3 540.6,865.7 541.2,863.8 541.8,858.2 542.4,849.2 543.0,837.4 543.6,823.4 544.2,808.0 544.8,792.2 545.5,776.9 546.1,762.9 546.7,751.0 547.3,742.0 547.9,736.4 548.5,734.5 549.1,736.2 549.7,741.1 550.4,748.8 551.0,758.9 551.6,770.7 552.2,783.3 552.8,795.9 553.4,807.6 554.0,817.7 554.6,825.5 555.3,830.3 555.9,832.0 556.5,831.1 557.1,828.5 557.8,824.5 558.4,819.6 559.0,814.4 559.7,809.6 560.3,805.6 560.9,803.0 561.5,802.1 562.2,802.8 562.8,805.0 563.4,808.4 564.1,812.6 564.7,817.0 565.3,821.1 566.0,824.5 566.6,826.7 567.2,827.5 567.8,826.4 568.5,823.1 569.1,818.0 569.7,811.4 570.3,803.9 570.9,796.1 571.5,788.6 572.2,782.1 572.8,776.9 573.4,773.7 574.0,772.6 574.6,773.7 575.2,777.0 575.9,782.2 576.5,788.7 577.1,795.9 577.7,803.2 578.3,809.7 578.9,814.8 579.5,818.2 580.1,819.3 580.8,817.8 581.5,813.3 582.1,806.3 582.8,797.5 583.4,787.8 584.1,778.0 584.7,769.3 585.4,762.3 586.1,757.8 586.7,756.3 587.3,758.0 587.9,763.2 588.5,771.3 589.1,782.0 589.7,794.4 590.3,807.7 591.0,821.1 591.6,833.5 592.2,844.1 592.8,852.3 593.4,857.5 594.0,859.2 594.6,857.7 595.2,853.3 595.8,846.3 596.4,837.1 597.0,826.4 597.6,815.0 598.2,803.6 598.8,792.9 599.4,783.7 600.0,776.7 600.6,772.3 601.2,770.8 601.8,771.9 602.5,775.2 603.1,780.4 603.7,786.9 604.3,794.1 604.9,801.3 605.5,807.9 606.1,813.0 606.7,816.3 607.4,817.5 608.0,816.0 608.7,811.8 609.3,805.4 610.0,797.5 610.6,789.1 611.3,781.3 611.9,774.8 612.6,770.6 613.3,769.2 613.9,770.6 614.5,774.8 615.1,781.3 615.7,789.7 616.3,799.3 617.0,809.3 617.6,818.9 618.2,827.4 618.8,833.9 619.4,838.1 620.1,839.5 620.7,838.2 621.3,834.5 621.9,828.6 622.5,820.9 623.1,812.0 623.7,802.4 624.3,792.8 624.9,783.9 625.5,776.2 626.1,770.3 626.7,766.6 627.3,765.3 627.9,767.4 628.6,773.3 629.2,782.6 629.9,794.3 630.5,807.3 631.1,820.2 631.8,831.9 632.4,841.2 633.0,847.2 633.7,849.2 634.3,846.2 634.9,837.4 635.5,823.8 636.1,807.3 636.7,789.6 637.3,773.0 637.9,759.5 638.5,750.7 639.1,747.6" fill="none" stroke="#000" stroke-width="1.1" stroke-linejoin="round"/>
<g transform="translate(0,996.5)"><g clip-path="url(#cp)"><g filter="url(#bl)"><use href="#dens"/></g></g></g><g transform="translate(0,996.5)"><g clip-path="url(#cp2)"><use href="#gl"/></g><line x1="569.7" y1="0.5" x2="569.7" y2="295.5" stroke="#222" stroke-width="0.7"/><line x1="33" y1="6.3" x2="569" y2="6.3" stroke="#000" stroke-opacity="0.03" stroke-width="1"/></g><path d="M33.5,1187.2 33.5,1204.9 33.7,1234.4 33.8,1197.5 34.0,1220.7 34.3,1196.5 34.5,1218.8 34.8,1214.4 35.0,1200.8 35.3,1222.3 35.5,1203.1 35.8,1223.1 36.0,1208.2 36.3,1210.9 36.5,1227.1 36.8,1243.4 37.0,1217.5 37.3,1223.6 37.3,1213.5 37.5,1252.3 37.5,1238.0 37.8,1254.9 38.0,1235.8 38.3,1228.1 38.5,1262.2 38.8,1201.3 39.0,1256.0 39.3,1217.2 39.5,1203.1 39.8,1198.6 40.0,1215.3 40.2,1181.4 40.3,1257.0 40.4,1272.9 40.5,1195.2 40.8,1227.1 41.0,1229.1 41.3,1201.6 41.5,1212.7 41.8,1150.9 42.0,1144.3 42.3,1160.8 42.5,1213.9 42.8,1181.8 43.0,1161.8 43.1,1105.5 43.3,1192.6 43.3,1252.5 43.5,1180.1 43.8,1161.1 44.0,1224.7 44.3,1211.1 44.5,1158.3 44.8,1196.9 45.0,1193.0 45.3,1237.4 45.5,1217.8 45.8,1173.0 46.0,1251.7 46.1,1137.6 46.3,1152.5 46.3,1248.5 46.5,1187.2 46.8,1219.9 47.0,1152.4 47.3,1190.0 47.5,1133.3 47.8,1205.3 48.0,1216.7 48.3,1192.5 48.5,1230.7 48.8,1163.9 49.0,1117.2 49.0,1204.1 49.2,1242.0 49.3,1192.5 49.5,1191.6 49.8,1182.3 50.0,1223.6 50.3,1237.2 50.5,1186.6 50.8,1203.3 51.0,1145.0 51.3,1207.9 51.5,1203.0 51.8,1239.4 51.9,1146.4 52.0,1220.8 52.1,1235.1 52.3,1177.8 52.5,1187.6 52.8,1207.9 53.0,1156.4 53.3,1195.9 53.5,1173.5 53.8,1170.4 54.0,1166.6 54.3,1219.5 54.5,1175.9 54.8,1186.9 54.8,1166.8 55.0,1198.0 55.0,1236.1 55.3,1230.8 55.5,1175.3 55.8,1204.1 56.0,1209.8 56.3,1236.4 56.5,1232.0 56.8,1237.0 57.0,1196.0 57.3,1207.0 57.5,1203.8 57.7,1172.6 57.8,1243.3 57.9,1250.3 58.0,1250.8 58.3,1187.6 58.5,1190.2 58.8,1195.4 59.0,1195.9 59.3,1215.2 59.5,1221.4 59.8,1199.4 60.0,1175.3 60.3,1212.5 60.5,1209.2 60.7,1175.5 60.8,1221.9 60.9,1256.0 61.0,1256.8 61.3,1233.2 61.5,1221.1 61.8,1228.8 62.0,1234.4 62.3,1184.4 62.5,1257.2 62.8,1246.3 63.0,1256.5 63.3,1249.8 63.5,1219.3 63.6,1181.4 63.8,1219.7 63.8,1267.4 64.0,1192.4 64.3,1233.8 64.5,1188.5 64.8,1189.1 65.0,1202.0 65.3,1197.9 65.5,1212.0 65.8,1188.3 66.0,1183.8 66.3,1196.7 66.5,1184.3 66.5,1192.6 66.7,1250.9 66.8,1211.3 67.0,1184.5 67.3,1243.7 67.5,1223.6 67.8,1192.2 68.0,1199.9 68.3,1206.5 68.5,1207.2 68.8,1186.6 69.0,1240.3 69.3,1253.7 69.4,1172.6 69.5,1212.0 69.6,1250.3 69.8,1213.2 70.0,1182.4 70.3,1184.5 70.5,1204.9 70.8,1199.4 71.0,1237.9 71.3,1192.0 71.5,1180.9 71.8,1247.8 72.0,1217.2 72.3,1193.1 72.3,1181.4 72.5,1218.3 72.5,1248.0 72.8,1182.5 73.0,1217.6 73.3,1252.3 73.5,1242.7 73.8,1229.2 74.0,1199.9 74.3,1208.1 74.5,1190.9 74.8,1236.8 75.0,1218.0 75.3,1238.2 75.3,1172.6 75.5,1255.8 75.5,1203.1 75.8,1192.0 76.0,1238.9 76.3,1256.6 76.5,1241.7 76.8,1236.1 77.0,1236.6 77.3,1227.6 77.5,1182.4 77.8,1206.1 78.0,1192.6 78.2,1152.2 78.3,1155.9 78.4,1249.3 78.5,1156.5 78.8,1185.2 79.0,1183.5 79.3,1219.9 79.5,1248.0 79.8,1201.6 80.0,1245.5 80.3,1251.0 80.5,1247.1 80.8,1196.3 81.0,1183.5 81.1,1160.9 81.3,1182.8 81.3,1246.9 81.5,1177.6 81.8,1176.0 82.0,1207.2 82.3,1232.3 82.5,1224.1 82.8,1191.1 83.0,1201.6 83.3,1214.1 83.5,1146.6 83.8,1196.2 84.0,1220.6 84.0,1131.8 84.2,1226.1 84.3,1208.8 84.5,1207.9 84.8,1187.6 85.0,1162.1 85.3,1219.5 85.5,1182.9 85.8,1225.8 86.0,1247.6 86.3,1196.2 86.5,1199.2 86.8,1252.1 86.9,1160.9 87.1,1255.3 89.4,1221.5 89.6,1232.6 89.7,1231.4 89.9,1239.0 90.0,1233.5 90.2,1249.2 90.4,1244.3 90.5,1255.8 90.7,1246.2 90.9,1261.4 91.0,1256.2 91.2,1265.7 91.3,1260.7 91.5,1266.0 91.7,1259.3 91.8,1272.8 92.0,1265.0 92.2,1277.6 92.3,1268.8 92.5,1280.6 92.7,1269.9 92.8,1273.6 93.0,1263.3 93.1,1264.3 93.3,1253.6 93.5,1256.1 93.6,1243.7 93.8,1245.4 94.0,1234.6 94.1,1238.3 94.3,1223.6 94.4,1226.8 94.6,1214.1 94.8,1221.2 94.9,1206.9 95.1,1213.1 95.3,1198.2 95.4,1202.7 95.6,1190.0 95.8,1191.7 95.9,1182.3 96.1,1186.9 96.2,1181.4 96.4,1187.1 96.6,1177.2 96.7,1182.0 96.9,1170.9 97.1,1179.2 97.2,1169.8 97.4,1175.7 97.6,1165.3 97.7,1173.5 97.9,1163.6 98.0,1168.0 98.2,1158.5 98.4,1162.1 98.5,1151.3 98.7,1159.2 98.9,1148.3 99.0,1156.3 99.2,1142.1 99.3,1154.6 99.5,1148.0 99.7,1159.2 99.8,1152.8 100.0,1164.5 100.2,1157.4 100.3,1167.8 100.5,1161.5 100.7,1174.3 100.8,1164.5 101.0,1180.2 101.1,1171.3 101.3,1184.9 101.5,1181.6 101.6,1196.9 101.8,1188.2 102.0,1200.5 102.1,1200.4 102.3,1210.4 102.4,1208.8 102.6,1216.6 102.8,1215.3 102.9,1225.6 103.1,1217.9 103.3,1233.4 103.4,1227.9 103.6,1238.9 103.8,1231.6 103.9,1242.2 104.1,1236.9 104.2,1251.7 104.4,1243.9 104.6,1254.9 104.7,1246.2 104.9,1255.6 105.1,1246.1 105.2,1260.8 105.4,1254.0 105.6,1261.8 105.7,1255.3 105.9,1261.3 106.0,1253.8 106.2,1257.9 106.4,1247.6 106.5,1252.9 106.7,1245.3 106.9,1252.0 107.0,1245.0 107.2,1248.2 107.3,1238.4 107.5,1242.6 107.7,1231.7 107.8,1235.5 108.0,1217.9 108.2,1225.6 108.3,1211.9 108.5,1211.9 108.7,1202.5 108.8,1204.9 109.0,1191.4 109.1,1191.5 109.3,1180.7 109.5,1186.1 109.6,1168.7 109.8,1172.6 110.0,1162.7 110.1,1166.5 110.3,1150.5 110.4,1155.5 110.6,1143.4 110.8,1145.4 110.9,1136.8 111.1,1144.2 111.3,1137.0 111.4,1143.8 111.6,1130.6 111.8,1139.8 111.9,1130.4 112.1,1136.8 112.2,1127.2 112.4,1134.8 112.6,1124.2 112.7,1131.1 112.9,1122.8 113.0,1133.5 113.2,1123.6 113.3,1128.2 113.5,1121.4 113.6,1128.0 113.8,1122.9 113.9,1126.8 114.1,1122.4 114.2,1126.2 114.4,1120.1 114.5,1126.0 114.7,1116.8 114.9,1126.9 115.0,1121.2 115.2,1129.3 115.3,1125.0 115.5,1131.3 115.7,1128.5 115.8,1134.2 116.0,1128.7 116.2,1140.2 116.3,1134.7 116.5,1145.3 116.7,1138.7 116.8,1151.4 117.0,1147.5 117.1,1161.4 117.3,1157.5 117.5,1171.8 117.6,1166.2 117.8,1178.1 118.0,1172.7 118.1,1189.8 118.3,1184.4 118.4,1198.7 118.6,1192.2 118.8,1207.4 118.9,1203.7 119.1,1215.6 119.3,1215.4 119.4,1224.2 119.6,1225.1 119.8,1235.8 119.9,1230.6 120.1,1239.0 120.2,1238.1 120.4,1249.4 120.6,1240.3 120.7,1255.0 120.9,1250.1 121.1,1259.1 121.2,1256.6 121.4,1264.4 121.6,1258.9 121.7,1265.9 121.9,1260.0 122.0,1270.5 122.2,1257.6 122.4,1269.8 122.5,1263.4 122.7,1273.7 122.9,1264.6 123.0,1269.5 123.2,1263.1 123.3,1266.4 123.5,1257.2 123.7,1263.8 123.8,1255.4 124.0,1260.6 124.2,1253.3 124.3,1255.9 124.5,1249.5 124.7,1237.1 124.8,1213.9 125.0,1199.1 125.1,1176.5 125.3,1164.3 125.5,1148.8 125.6,1149.7 125.8,1131.5 126.0,1134.1 126.1,1115.4 126.3,1124.8 126.4,1112.6 126.6,1117.0 126.8,1104.6 126.9,1111.4 127.1,1101.4 127.3,1109.5 127.4,1105.9 127.6,1116.7 127.8,1107.3 127.9,1121.6 128.1,1114.3 128.2,1128.8 128.4,1123.7 128.6,1133.3 128.7,1128.0 128.9,1141.6 129.1,1132.9 129.2,1148.1 129.4,1140.6 129.6,1155.0 129.7,1146.6 129.9,1160.4 130.0,1155.7 130.2,1163.2 130.4,1161.1 130.5,1168.3 130.7,1164.5 130.9,1174.2 131.0,1165.3 131.2,1176.3 131.3,1168.2 131.5,1179.9 131.7,1172.2 131.8,1179.4 132.0,1169.6 132.2,1178.7 132.3,1166.4 132.5,1172.6 132.7,1160.6 132.8,1165.0 133.0,1155.3 133.1,1161.2 133.3,1154.1 133.5,1156.4 133.6,1150.4 133.8,1160.9 134.0,1155.3 134.1,1170.1 134.3,1161.5 134.4,1171.7 134.6,1166.5 134.8,1178.3 134.9,1169.8 135.1,1182.8 135.3,1178.4 135.4,1190.7 135.6,1192.1 135.7,1202.7 135.9,1199.8 136.1,1213.9 136.2,1211.7 136.4,1223.2 136.5,1225.5 136.7,1233.4 136.9,1228.6 137.0,1242.3 137.2,1235.1 137.4,1246.6 137.5,1242.5 137.7,1254.1 137.9,1249.4 138.0,1258.7 138.2,1253.5 138.3,1258.3 138.5,1244.9 138.7,1254.3 138.8,1242.1 139.0,1243.4 139.2,1229.4 139.3,1238.1 139.5,1223.3 139.6,1226.0 139.8,1216.5 140.0,1224.1 140.1,1213.2 140.3,1218.8 140.5,1210.3 140.6,1215.2 140.8,1202.5 141.0,1209.7 141.1,1199.9 141.3,1208.6 141.4,1196.3 141.6,1207.5 141.8,1199.0 141.9,1207.6 142.1,1196.6 142.3,1201.8 142.4,1198.3 142.6,1203.4 142.8,1194.8 142.9,1201.3 143.1,1195.6 143.2,1202.1 143.4,1196.6 143.6,1206.8 143.7,1200.3 143.9,1208.3 144.1,1197.6 144.2,1206.7 144.4,1199.0 144.6,1212.0 144.7,1201.1 144.9,1207.7 145.0,1198.2 145.2,1202.3 145.4,1188.8 145.5,1197.6 145.7,1186.5 145.9,1190.8 146.0,1181.1 146.2,1182.7 146.4,1176.2 146.5,1176.4 146.7,1159.6 146.8,1161.5 147.0,1144.3 147.2,1142.2 147.3,1127.3 147.5,1126.2 147.7,1112.5 147.8,1126.9 148.0,1118.0 148.2,1134.5 148.3,1127.9 148.5,1143.5 148.6,1134.5 148.8,1149.9 149.0,1136.7 149.1,1140.6 149.3,1130.1 149.5,1136.3 149.6,1123.5 149.8,1140.6 150.0,1139.1 150.1,1150.4 150.3,1148.6 150.4,1163.9 150.6,1170.8 150.8,1191.3 150.9,1198.0 151.1,1219.7 151.3,1220.3 151.4,1233.3 151.6,1228.7 151.8,1240.1 151.9,1235.8 152.1,1247.2 152.2,1244.5 152.4,1252.4 152.6,1250.8 152.7,1263.1 152.9,1255.7 153.1,1265.0 153.2,1258.3 153.4,1274.3 153.6,1265.8 153.7,1274.4 153.9,1272.2 154.0,1279.0 154.2,1276.2 154.4,1283.9 154.5,1281.7 154.7,1286.5 154.9,1278.2 155.0,1288.4 155.2,1275.6 155.4,1284.1 155.5,1275.8 155.7,1283.1 155.8,1274.4 156.0,1280.4 156.2,1274.5 156.3,1277.6 156.5,1266.2 156.7,1273.5 156.8,1265.5 157.0,1273.0 157.2,1260.2 157.3,1267.4 157.5,1260.3 157.6,1264.3 157.8,1256.3 158.0,1260.5 158.1,1246.6 158.3,1256.3 158.5,1240.5 158.6,1245.1 158.8,1238.7 158.9,1242.4 159.1,1227.3 159.3,1234.5 159.4,1222.5 159.6,1212.2 159.8,1190.9 159.9,1184.7 160.1,1155.8 160.3,1151.6 160.4,1141.9 160.6,1154.8 160.7,1153.2 160.9,1160.8 161.1,1157.5 161.2,1166.2 161.4,1153.5 161.6,1164.8 161.7,1153.5 161.9,1163.4 162.1,1152.9 162.2,1160.5 162.4,1153.6 162.5,1160.2 162.7,1150.9 162.9,1159.3 163.0,1147.0 163.2,1154.2 163.4,1148.2 163.5,1152.3 163.7,1143.7 163.9,1153.2 164.0,1145.0 164.2,1148.0 164.3,1141.1 164.5,1149.3 164.7,1140.2 164.8,1145.6 165.0,1137.4 165.2,1142.8 165.3,1137.4 165.5,1143.7 165.7,1132.1 165.8,1143.1 166.0,1130.9 166.1,1142.9 166.3,1137.8 166.5,1144.9 166.6,1137.0 166.8,1150.8 167.0,1143.9 167.1,1150.2 167.3,1146.1 167.5,1157.1 167.6,1149.8 167.8,1158.9 167.9,1153.4 168.1,1167.5 168.3,1160.7 168.4,1167.5 168.6,1165.0 168.8,1174.5 168.9,1168.0 169.1,1178.2 169.3,1172.3 169.4,1196.8 169.6,1200.1 169.7,1219.9 169.9,1223.6 170.1,1246.7 170.2,1242.5 170.4,1256.1 170.6,1255.6 170.7,1268.8 170.9,1265.0 171.1,1274.0 171.2,1262.3 171.4,1268.1 171.5,1262.2 171.7,1267.7 171.9,1258.1 172.0,1269.1 172.2,1259.3 172.4,1264.3 172.5,1257.3 172.7,1263.5 172.9,1251.2 173.0,1251.8 173.2,1245.1 173.3,1247.2 173.5,1233.9 173.7,1243.4 173.8,1228.2 174.0,1237.5 174.2,1220.6 174.3,1222.3 174.5,1208.4 174.7,1209.3 174.8,1188.9 175.0,1187.9 175.1,1173.0 175.3,1173.5 175.5,1158.3 175.6,1156.9 175.8,1143.1 176.0,1148.5 176.1,1145.7 176.3,1153.7 176.5,1145.2 176.6,1155.7 176.8,1148.4 176.9,1159.4 177.1,1155.1 177.3,1166.1 177.4,1155.8 177.6,1164.8 177.8,1158.5 177.9,1163.4 178.1,1155.0 178.2,1164.2 178.4,1154.4 178.6,1159.5 178.7,1148.8 178.9,1156.0 179.1,1149.9 179.2,1158.4 179.4,1145.6 179.6,1151.8 179.7,1147.4 179.9,1149.6 180.0,1140.2 180.2,1148.4 180.4,1138.9 180.5,1149.7 180.7,1138.9 180.9,1147.5 181.0,1140.3 181.2,1154.4 181.4,1149.1 181.5,1159.8 181.7,1153.7 181.8,1162.3 182.0,1160.4 182.2,1175.6 182.3,1171.6 182.5,1191.3 182.7,1187.8 182.8,1204.2 183.0,1208.1 183.2,1223.1 183.3,1214.7 183.5,1230.7 183.6,1222.8 183.8,1231.6 184.0,1227.5 184.1,1237.9 184.3,1229.6 184.5,1241.1 184.6,1235.2 184.8,1249.1 185.0,1239.2 185.1,1252.6 185.3,1243.7 185.4,1253.3 185.6,1248.5 185.8,1256.8 185.9,1249.2 186.1,1258.5 186.3,1255.8 186.4,1265.5 186.6,1256.3 186.8,1260.0 186.9,1255.9 187.1,1261.1 187.2,1252.6 187.4,1261.9 187.6,1247.8 187.7,1260.3 187.9,1249.7 188.1,1253.6 188.2,1249.0 188.4,1254.3 188.6,1243.9 188.7,1252.4 188.9,1244.9 189.0,1250.6 189.2,1241.1 189.4,1250.4 189.5,1238.8 189.7,1249.7 189.9,1238.4 190.0,1245.6 190.2,1237.5 190.4,1246.6 190.5,1239.0 190.7,1247.0 190.8,1238.0 191.0,1246.1 191.2,1240.8 191.3,1246.3 191.5,1238.0 191.7,1243.4 191.8,1229.1 192.0,1233.7 192.2,1223.6 192.3,1230.9 192.5,1216.4 192.6,1220.1 192.8,1208.2 193.0,1215.9 193.1,1196.9 193.3,1198.8 193.5,1185.8 193.6,1188.8 193.8,1169.7 194.0,1175.3 194.1,1161.4 195.0,1110.2 195.7,1072.6 196.3,1132.8 197.2,1141.7 198.1,1106.1 199.1,1153.2 200.0,1201.1 201.1,1239.5 202.2,1262.5 203.4,1244.9 204.5,1213.1 205.6,1153.1 206.8,1159.9 207.9,1176.3 209.0,1167.4 210.2,1117.9 210.9,1155.7 211.8,1145.2 212.7,1189.5 213.6,1199.5 214.7,1196.9 215.8,1221.6 217.0,1234.9 218.1,1211.2 219.3,1235.1 220.4,1251.1 221.5,1189.5 222.7,1210.8 223.8,1187.3 224.9,1198.7 226.1,1190.0 227.2,1165.7 228.3,1155.4 229.5,1158.5 230.6,1183.2 231.7,1171.7 232.4,1130.4 233.3,1165.6 234.5,1208.4 235.1,1208.4 235.8,1212.4 237.0,1222.1 238.1,1245.1 239.2,1213.0 240.4,1235.5 241.5,1222.1 242.6,1155.8 243.5,1171.4 244.4,1190.7 245.3,1183.5 246.5,1155.5 247.6,1123.9 248.3,1141.9 249.4,1177.2 250.6,1174.7 251.7,1190.2 252.8,1213.1 254.0,1233.3 255.1,1229.1 256.2,1199.2 257.4,1178.1 258.5,1154.5 259.4,1140.1 260.6,1153.6 261.7,1147.4 262.8,1149.8 264.0,1178.8 265.1,1199.3 266.2,1224.0 267.4,1245.1 268.5,1257.7 269.4,1244.5 270.3,1201.9 271.2,1154.3 272.1,1144.6 273.0,1130.6 273.9,1099.9 274.6,1081.6 275.3,1110.0 276.2,1130.4 277.1,1168.0 278.3,1176.5 279.4,1184.8 280.5,1198.5 281.7,1183.0 282.8,1209.9 283.9,1190.1 285.1,1198.7 286.2,1194.0 287.3,1203.3 288.5,1200.9 289.6,1208.4 290.7,1201.8 291.9,1221.4 293.0,1191.8 294.1,1176.9 295.3,1235.2 296.4,1244.5 297.5,1223.8 298.7,1265.5 299.8,1235.0 300.9,1210.2 302.1,1176.9 303.2,1233.9 304.3,1224.1 305.5,1232.8 306.6,1212.0 307.8,1198.7 308.9,1212.1 310.0,1194.5 311.2,1210.5 312.3,1199.0 313.4,1173.8 314.6,1158.4 315.7,1167.4 316.8,1187.9 318.0,1212.9 319.1,1221.9 320.2,1246.6 321.4,1240.7 322.5,1235.5 323.6,1244.6 324.5,1223.6 325.7,1221.5 326.8,1213.1 327.9,1199.2 329.1,1189.5 330.2,1176.5 331.3,1171.2 332.5,1177.0 333.6,1189.9 334.8,1181.6 335.4,1201.2 336.3,1131.1 337.0,1096.3 337.7,1130.9 338.6,1178.0 339.5,1187.5 340.4,1179.0 341.6,1194.6 342.7,1189.3 343.8,1199.2 345.0,1196.6 346.1,1209.9 347.2,1216.7 348.4,1221.3 349.5,1236.1 350.6,1239.7 351.8,1224.5 352.9,1210.9 354.0,1179.3 355.2,1157.2 355.9,1190.6 357.0,1209.9 357.9,1223.5 358.6,1198.7 359.7,1161.1 360.4,1188.4 361.3,1235.1 362.2,1244.2 363.1,1212.2 364.3,1187.2 365.4,1164.7 366.1,1176.0 367.2,1189.5 368.3,1183.3 369.5,1179.2 370.4,1154.2 371.1,1119.3 371.7,1153.8 372.6,1189.7 373.6,1199.8 374.5,1223.6 375.6,1245.0 376.7,1260.9 377.9,1232.9 379.0,1224.6 380.1,1211.0 381.3,1201.7 382.4,1177.0 383.5,1160.5 384.7,1149.0 385.8,1144.4 386.5,1137.3 387.2,1135.6 388.1,1142.3 389.2,1179.2 390.3,1211.1 391.5,1236.1 392.6,1212.6 393.8,1189.8 394.9,1167.0 396.0,1160.1 397.2,1153.1 398.3,1160.6 399.4,1172.1 400.6,1183.5 401.7,1199.2 402.8,1214.5 404.0,1223.8 405.1,1234.7 406.2,1239.5 407.4,1246.3 408.5,1246.6 409.6,1242.9 410.8,1221.7 411.9,1201.6 412.6,1190.3 413.3,1155.2 413.9,1188.5 414.9,1223.5 415.8,1221.7 416.7,1235.3 417.6,1233.2 418.7,1242.7 419.8,1222.4 421.0,1223.6 422.1,1217.1 423.3,1212.0 424.4,1195.3 425.5,1212.5 426.7,1222.4 427.8,1212.5 428.9,1199.6 429.6,1258.2 430.3,1264.8 431.2,1212.2 432.3,1176.3 433.5,1160.4 434.1,1142.9 434.8,1129.3 435.7,1158.7 436.9,1189.5 438.0,1211.1 439.1,1235.6 440.3,1244.0 441.4,1258.5 442.5,1244.7 443.7,1235.0 444.8,1222.6 445.9,1212.9 447.1,1192.3 448.2,1144.4 449.3,1119.5 450.0,1092.3 450.5,1062.4 451.2,1122.2 452.1,1131.4 453.0,1120.2 453.9,1177.1 455.0,1224.1 456.2,1256.0 457.3,1246.3 458.4,1245.2 459.6,1235.8 460.7,1222.6 461.8,1212.7 463.0,1187.2 464.1,1178.1 465.2,1154.2 466.4,1142.5 467.5,1131.1 468.6,1138.0 468.9,1107.9 469.5,1137.3 470.4,1154.0 471.4,1178.3 472.3,1199.8 472.9,1224.6 473.6,1241.9 474.5,1242.5 475.4,1233.9 476.3,1224.5 477.5,1230.6 478.2,1212.6 479.1,1198.8 479.8,1178.6 480.4,1131.5 481.3,1105.4 482.0,1131.5 482.7,1109.9 483.0,1008.8 483.4,1156.3 484.3,1071.8 485.0,1111.0 485.4,1153.5 486.1,1132.9 486.8,1153.7 487.7,1178.5 488.4,1164.7 489.1,1201.3 490.0,1220.7" fill="none" stroke="#000" stroke-width="1.05" stroke-linejoin="round"/>
<rect x="33.0" y="0.5" width="606.5" height="295.0" fill="none" stroke="#000" stroke-width="0.6"/>
<line x1="29.8" y1="270.92" x2="33.0" y2="270.92" stroke="#000" stroke-width="0.6"/>
<text x="28.0" y="274.52" text-anchor="end" class="tk">0</text>
<line x1="29.8" y1="209.46" x2="33.0" y2="209.46" stroke="#000" stroke-width="0.6"/>
<text x="28.0" y="213.06" text-anchor="end" class="tk">5</text>
<line x1="29.8" y1="148.00" x2="33.0" y2="148.00" stroke="#000" stroke-width="0.6"/>
<text x="28.0" y="151.60" text-anchor="end" class="tk">10</text>
<line x1="29.8" y1="86.54" x2="33.0" y2="86.54" stroke="#000" stroke-width="0.6"/>
<text x="28.0" y="90.14" text-anchor="end" class="tk">15</text>
<line x1="29.8" y1="25.08" x2="33.0" y2="25.08" stroke="#000" stroke-width="0.6"/>
<text x="28.0" y="28.68" text-anchor="end" class="tk">20</text>
<line x1="33.00" y1="295.5" x2="33.00" y2="298.6" stroke="#000" stroke-width="0.6"/>
<text x="33.00" y="308.30" text-anchor="middle" class="tk">0</text>
<line x1="104.35" y1="295.5" x2="104.35" y2="298.6" stroke="#000" stroke-width="0.6"/>
<text x="104.35" y="308.30" text-anchor="middle" class="tk">100</text>
<line x1="175.71" y1="295.5" x2="175.71" y2="298.6" stroke="#000" stroke-width="0.6"/>
<text x="175.71" y="308.30" text-anchor="middle" class="tk">200</text>
<line x1="247.06" y1="295.5" x2="247.06" y2="298.6" stroke="#000" stroke-width="0.6"/>
<text x="247.06" y="308.30" text-anchor="middle" class="tk">300</text>
<line x1="318.41" y1="295.5" x2="318.41" y2="298.6" stroke="#000" stroke-width="0.6"/>
<text x="318.41" y="308.30" text-anchor="middle" class="tk">400</text>
<line x1="389.76" y1="295.5" x2="389.76" y2="298.6" stroke="#000" stroke-width="0.6"/>
<text x="389.76" y="308.30" text-anchor="middle" class="tk">500</text>
<line x1="461.12" y1="295.5" x2="461.12" y2="298.6" stroke="#000" stroke-width="0.6"/>
<text x="461.12" y="308.30" text-anchor="middle" class="tk">600</text>
<line x1="532.47" y1="295.5" x2="532.47" y2="298.6" stroke="#000" stroke-width="0.6"/>
<text x="532.47" y="308.30" text-anchor="middle" class="tk">700</text>
<line x1="603.82" y1="295.5" x2="603.82" y2="298.6" stroke="#000" stroke-width="0.6"/>
<text x="603.82" y="308.30" text-anchor="middle" class="tk">800</text>
<line x1="639.5" y1="31.02" x2="642.7" y2="31.02" stroke="#000" stroke-width="0.6"/>
<text x="643.9" y="34.62" class="tk">180</text>
<line x1="639.5" y1="71.71" x2="642.7" y2="71.71" stroke="#000" stroke-width="0.6"/>
<text x="643.9" y="75.31" class="tk">200</text>
<line x1="639.5" y1="112.40" x2="642.7" y2="112.40" stroke="#000" stroke-width="0.6"/>
<text x="643.9" y="116.00" class="tk">220</text>
<line x1="639.5" y1="153.09" x2="642.7" y2="153.09" stroke="#000" stroke-width="0.6"/>
<text x="643.9" y="156.69" class="tk">240</text>
<line x1="639.5" y1="193.78" x2="642.7" y2="193.78" stroke="#000" stroke-width="0.6"/>
<text x="643.9" y="197.38" class="tk">260</text>
<line x1="639.5" y1="234.47" x2="642.7" y2="234.47" stroke="#000" stroke-width="0.6"/>
<text x="643.9" y="238.07" class="tk">280</text>
<line x1="639.5" y1="275.16" x2="642.7" y2="275.16" stroke="#000" stroke-width="0.6"/>
<text x="643.9" y="278.76" class="tk">300</text>
<text x="0" y="0" transform="translate(10.3,148.0) rotate(-90)" text-anchor="middle" class="al">Water table [m]</text>
<text x="336.2" y="322.8" text-anchor="middle" class="al">Age [ka]</text>
<text transform="translate(675.6,147.6) rotate(-90)" text-anchor="middle" class="al">CO<tspan font-size="9.8px" dy="2.5">2</tspan><tspan dy="-2.5"> [ppm]</tspan></text>
<rect x="33.0" y="333.5" width="606.5" height="295.0" fill="none" stroke="#000" stroke-width="0.6"/>
<line x1="29.8" y1="603.92" x2="33.0" y2="603.92" stroke="#000" stroke-width="0.6"/>
<text x="28.0" y="607.52" text-anchor="end" class="tk">0</text>
<line x1="29.8" y1="542.46" x2="33.0" y2="542.46" stroke="#000" stroke-width="0.6"/>
<text x="28.0" y="546.06" text-anchor="end" class="tk">5</text>
<line x1="29.8" y1="481.00" x2="33.0" y2="481.00" stroke="#000" stroke-width="0.6"/>
<text x="28.0" y="484.60" text-anchor="end" class="tk">10</text>
<line x1="29.8" y1="419.54" x2="33.0" y2="419.54" stroke="#000" stroke-width="0.6"/>
<text x="28.0" y="423.14" text-anchor="end" class="tk">15</text>
<line x1="29.8" y1="358.08" x2="33.0" y2="358.08" stroke="#000" stroke-width="0.6"/>
<text x="28.0" y="361.68" text-anchor="end" class="tk">20</text>
<line x1="33.00" y1="628.5" x2="33.00" y2="631.6" stroke="#000" stroke-width="0.6"/>
<text x="33.00" y="641.30" text-anchor="middle" class="tk">0</text>
<line x1="104.35" y1="628.5" x2="104.35" y2="631.6" stroke="#000" stroke-width="0.6"/>
<text x="104.35" y="641.30" text-anchor="middle" class="tk">100</text>
<line x1="175.71" y1="628.5" x2="175.71" y2="631.6" stroke="#000" stroke-width="0.6"/>
<text x="175.71" y="641.30" text-anchor="middle" class="tk">200</text>
<line x1="247.06" y1="628.5" x2="247.06" y2="631.6" stroke="#000" stroke-width="0.6"/>
<text x="247.06" y="641.30" text-anchor="middle" class="tk">300</text>
<line x1="318.41" y1="628.5" x2="318.41" y2="631.6" stroke="#000" stroke-width="0.6"/>
<text x="318.41" y="641.30" text-anchor="middle" class="tk">400</text>
<line x1="389.76" y1="628.5" x2="389.76" y2="631.6" stroke="#000" stroke-width="0.6"/>
<text x="389.76" y="641.30" text-anchor="middle" class="tk">500</text>
<line x1="461.12" y1="628.5" x2="461.12" y2="631.6" stroke="#000" stroke-width="0.6"/>
<text x="461.12" y="641.30" text-anchor="middle" class="tk">600</text>
<line x1="532.47" y1="628.5" x2="532.47" y2="631.6" stroke="#000" stroke-width="0.6"/>
<text x="532.47" y="641.30" text-anchor="middle" class="tk">700</text>
<line x1="603.82" y1="628.5" x2="603.82" y2="631.6" stroke="#000" stroke-width="0.6"/>
<text x="603.82" y="641.30" text-anchor="middle" class="tk">800</text>
<line x1="639.5" y1="360.32" x2="642.7" y2="360.32" stroke="#000" stroke-width="0.6"/>
<text x="643.9" y="363.92" class="tk">−120</text>
<line x1="639.5" y1="396.08" x2="642.7" y2="396.08" stroke="#000" stroke-width="0.6"/>
<text x="643.9" y="399.68" class="tk">−100</text>
<line x1="639.5" y1="431.83" x2="642.7" y2="431.83" stroke="#000" stroke-width="0.6"/>
<text x="643.9" y="435.43" class="tk">−80</text>
<line x1="639.5" y1="467.59" x2="642.7" y2="467.59" stroke="#000" stroke-width="0.6"/>
<text x="643.9" y="471.19" class="tk">−60</text>
<line x1="639.5" y1="503.35" x2="642.7" y2="503.35" stroke="#000" stroke-width="0.6"/>
<text x="643.9" y="506.95" class="tk">−40</text>
<line x1="639.5" y1="539.11" x2="642.7" y2="539.11" stroke="#000" stroke-width="0.6"/>
<text x="643.9" y="542.71" class="tk">−20</text>
<line x1="639.5" y1="574.86" x2="642.7" y2="574.86" stroke="#000" stroke-width="0.6"/>
<text x="643.9" y="578.46" class="tk">0</text>
<line x1="639.5" y1="610.62" x2="642.7" y2="610.62" stroke="#000" stroke-width="0.6"/>
<text x="643.9" y="614.22" class="tk">20</text>
<text x="0" y="0" transform="translate(10.3,481.0) rotate(-90)" text-anchor="middle" class="al">Water table [m]</text>
<text x="336.2" y="655.8" text-anchor="middle" class="al">Age [ka]</text>
<text transform="translate(683.5,481) rotate(-90)" text-anchor="middle" class="al">Sea level [m]</text>
<rect x="33.0" y="666.5" width="606.5" height="295.0" fill="none" stroke="#000" stroke-width="0.6"/>
<line x1="29.8" y1="936.92" x2="33.0" y2="936.92" stroke="#000" stroke-width="0.6"/>
<text x="28.0" y="940.52" text-anchor="end" class="tk">0</text>
<line x1="29.8" y1="875.46" x2="33.0" y2="875.46" stroke="#000" stroke-width="0.6"/>
<text x="28.0" y="879.06" text-anchor="end" class="tk">5</text>
<line x1="29.8" y1="814.00" x2="33.0" y2="814.00" stroke="#000" stroke-width="0.6"/>
<text x="28.0" y="817.60" text-anchor="end" class="tk">10</text>
<line x1="29.8" y1="752.54" x2="33.0" y2="752.54" stroke="#000" stroke-width="0.6"/>
<text x="28.0" y="756.14" text-anchor="end" class="tk">15</text>
<line x1="29.8" y1="691.08" x2="33.0" y2="691.08" stroke="#000" stroke-width="0.6"/>
<text x="28.0" y="694.68" text-anchor="end" class="tk">20</text>
<line x1="33.00" y1="961.5" x2="33.00" y2="964.6" stroke="#000" stroke-width="0.6"/>
<text x="33.00" y="974.30" text-anchor="middle" class="tk">0</text>
<line x1="104.35" y1="961.5" x2="104.35" y2="964.6" stroke="#000" stroke-width="0.6"/>
<text x="104.35" y="974.30" text-anchor="middle" class="tk">100</text>
<line x1="175.71" y1="961.5" x2="175.71" y2="964.6" stroke="#000" stroke-width="0.6"/>
<text x="175.71" y="974.30" text-anchor="middle" class="tk">200</text>
<line x1="247.06" y1="961.5" x2="247.06" y2="964.6" stroke="#000" stroke-width="0.6"/>
<text x="247.06" y="974.30" text-anchor="middle" class="tk">300</text>
<line x1="318.41" y1="961.5" x2="318.41" y2="964.6" stroke="#000" stroke-width="0.6"/>
<text x="318.41" y="974.30" text-anchor="middle" class="tk">400</text>
<line x1="389.76" y1="961.5" x2="389.76" y2="964.6" stroke="#000" stroke-width="0.6"/>
<text x="389.76" y="974.30" text-anchor="middle" class="tk">500</text>
<line x1="461.12" y1="961.5" x2="461.12" y2="964.6" stroke="#000" stroke-width="0.6"/>
<text x="461.12" y="974.30" text-anchor="middle" class="tk">600</text>
<line x1="532.47" y1="961.5" x2="532.47" y2="964.6" stroke="#000" stroke-width="0.6"/>
<text x="532.47" y="974.30" text-anchor="middle" class="tk">700</text>
<line x1="603.82" y1="961.5" x2="603.82" y2="964.6" stroke="#000" stroke-width="0.6"/>
<text x="603.82" y="974.30" text-anchor="middle" class="tk">800</text>
<line x1="639.5" y1="666.50" x2="642.7" y2="666.50" stroke="#000" stroke-width="0.6"/>
<text x="643.9" y="670.10" class="tk">380</text>
<line x1="639.5" y1="711.88" x2="642.7" y2="711.88" stroke="#000" stroke-width="0.6"/>
<text x="643.9" y="715.48" class="tk">400</text>
<line x1="639.5" y1="757.27" x2="642.7" y2="757.27" stroke="#000" stroke-width="0.6"/>
<text x="643.9" y="760.87" class="tk">420</text>
<line x1="639.5" y1="802.65" x2="642.7" y2="802.65" stroke="#000" stroke-width="0.6"/>
<text x="643.9" y="806.25" class="tk">440</text>
<line x1="639.5" y1="848.04" x2="642.7" y2="848.04" stroke="#000" stroke-width="0.6"/>
<text x="643.9" y="851.64" class="tk">460</text>
<line x1="639.5" y1="893.42" x2="642.7" y2="893.42" stroke="#000" stroke-width="0.6"/>
<text x="643.9" y="897.02" class="tk">480</text>
<line x1="639.5" y1="938.81" x2="642.7" y2="938.81" stroke="#000" stroke-width="0.6"/>
<text x="643.9" y="942.41" class="tk">500</text>
<text x="0" y="0" transform="translate(10.3,814.0) rotate(-90)" text-anchor="middle" class="al">Water table [m]</text>
<text x="336.2" y="988.8" text-anchor="middle" class="al">Age [ka]</text>
<text transform="translate(675.7,814) rotate(-90)" text-anchor="middle" class="al">Insolation mid-July 65°N [W/m²]</text>
<rect x="33.0" y="997.0" width="606.5" height="295.0" fill="none" stroke="#000" stroke-width="0.6"/>
<line x1="29.8" y1="1267.42" x2="33.0" y2="1267.42" stroke="#000" stroke-width="0.6"/>
<text x="28.0" y="1271.02" text-anchor="end" class="tk">0</text>
<line x1="29.8" y1="1205.96" x2="33.0" y2="1205.96" stroke="#000" stroke-width="0.6"/>
<text x="28.0" y="1209.56" text-anchor="end" class="tk">5</text>
<line x1="29.8" y1="1144.50" x2="33.0" y2="1144.50" stroke="#000" stroke-width="0.6"/>
<text x="28.0" y="1148.10" text-anchor="end" class="tk">10</text>
<line x1="29.8" y1="1083.04" x2="33.0" y2="1083.04" stroke="#000" stroke-width="0.6"/>
<text x="28.0" y="1086.64" text-anchor="end" class="tk">15</text>
<line x1="29.8" y1="1021.58" x2="33.0" y2="1021.58" stroke="#000" stroke-width="0.6"/>
<text x="28.0" y="1025.18" text-anchor="end" class="tk">20</text>
<line x1="33.00" y1="1292.0" x2="33.00" y2="1295.1" stroke="#000" stroke-width="0.6"/>
<text x="33.00" y="1304.80" text-anchor="middle" class="tk">0</text>
<line x1="104.35" y1="1292.0" x2="104.35" y2="1295.1" stroke="#000" stroke-width="0.6"/>
<text x="104.35" y="1304.80" text-anchor="middle" class="tk">100</text>
<line x1="175.71" y1="1292.0" x2="175.71" y2="1295.1" stroke="#000" stroke-width="0.6"/>
<text x="175.71" y="1304.80" text-anchor="middle" class="tk">200</text>
<line x1="247.06" y1="1292.0" x2="247.06" y2="1295.1" stroke="#000" stroke-width="0.6"/>
<text x="247.06" y="1304.80" text-anchor="middle" class="tk">300</text>
<line x1="318.41" y1="1292.0" x2="318.41" y2="1295.1" stroke="#000" stroke-width="0.6"/>
<text x="318.41" y="1304.80" text-anchor="middle" class="tk">400</text>
<line x1="389.76" y1="1292.0" x2="389.76" y2="1295.1" stroke="#000" stroke-width="0.6"/>
<text x="389.76" y="1304.80" text-anchor="middle" class="tk">500</text>
<line x1="461.12" y1="1292.0" x2="461.12" y2="1295.1" stroke="#000" stroke-width="0.6"/>
<text x="461.12" y="1304.80" text-anchor="middle" class="tk">600</text>
<line x1="532.47" y1="1292.0" x2="532.47" y2="1295.1" stroke="#000" stroke-width="0.6"/>
<text x="532.47" y="1304.80" text-anchor="middle" class="tk">700</text>
<line x1="603.82" y1="1292.0" x2="603.82" y2="1295.1" stroke="#000" stroke-width="0.6"/>
<text x="603.82" y="1304.80" text-anchor="middle" class="tk">800</text>
<line x1="639.5" y1="1013.39" x2="642.7" y2="1013.39" stroke="#000" stroke-width="0.6"/>
<text x="643.9" y="1016.99" class="tk">−3</text>
<line x1="639.5" y1="1046.17" x2="642.7" y2="1046.17" stroke="#000" stroke-width="0.6"/>
<text x="643.9" y="1049.77" class="tk">−4</text>
<line x1="639.5" y1="1078.94" x2="642.7" y2="1078.94" stroke="#000" stroke-width="0.6"/>
<text x="643.9" y="1082.54" class="tk">−5</text>
<line x1="639.5" y1="1111.72" x2="642.7" y2="1111.72" stroke="#000" stroke-width="0.6"/>
<text x="643.9" y="1115.32" class="tk">−6</text>
<line x1="639.5" y1="1144.50" x2="642.7" y2="1144.50" stroke="#000" stroke-width="0.6"/>
<text x="643.9" y="1148.10" class="tk">−7</text>
<line x1="639.5" y1="1177.28" x2="642.7" y2="1177.28" stroke="#000" stroke-width="0.6"/>
<text x="643.9" y="1180.88" class="tk">−8</text>
<line x1="639.5" y1="1210.06" x2="642.7" y2="1210.06" stroke="#000" stroke-width="0.6"/>
<text x="643.9" y="1213.66" class="tk">−9</text>
<line x1="639.5" y1="1242.83" x2="642.7" y2="1242.83" stroke="#000" stroke-width="0.6"/>
<text x="643.9" y="1246.43" class="tk">−10</text>
<line x1="639.5" y1="1275.61" x2="642.7" y2="1275.61" stroke="#000" stroke-width="0.6"/>
<text x="643.9" y="1279.21" class="tk">−11</text>
<text x="0" y="0" transform="translate(10.3,1144.5) rotate(-90)" text-anchor="middle" class="al">Water table [m]</text>
<text x="336.2" y="1319.3" text-anchor="middle" class="al">Age [ka]</text>
<text transform="translate(679.5,1144) rotate(-90)" text-anchor="middle" class="al"><tspan font-style="italic">δ</tspan><tspan font-size="9.8px" dy="-5">18</tspan><tspan dy="5">O</tspan><tspan font-size="9.8px" font-style="italic" dy="2.5">VPDB</tspan><tspan dy="-2.5"> [‰]</tspan></text>
<text x="57.6" y="23.4" class="pl">A</text>
<text x="58.5" y="357.4" class="pl">B</text>
<text x="55.5" y="689.6" class="pl">C</text>
<text x="55.0" y="1023.2" class="pl">D</text>
<text x="27.7" y="75.8" class="tl">T I</text>
<text x="111.2" y="85.7" class="tl">T II</text>
<text x="164.2" y="98.2" class="tl">T IIIa</text>
<text x="191.5" y="70.9" class="tl">T III</text>
<text x="255.3" y="108.1" class="tl">T IV</text>
<text x="323.0" y="105.0" class="tl">T V</text>
<text x="390.0" y="103.1" class="tl">T VI</text>
<text x="455.2" y="92.7" class="tl">T VII</text>
<text x="516.3" y="82.4" class="tl">T VIII</text>
<text x="578.1" y="93.5" class="tl">T IX</text>
<text x="28.0" y="409.0" class="tl">T I</text>
<text x="105.3" y="405.2" class="tl">T II</text>
<text x="171.6" y="449.3" class="tl">T IIIa</text>
<text x="188.6" y="426.5" class="tl">T III</text>
<text x="249.7" y="439.1" class="tl">T IV</text>
<text x="315.0" y="436.1" class="tl">T V</text>
<text x="373.1" y="494.5" class="tl">T VI</text>
<text x="448.5" y="459.7" class="tl">T VII</text>
<text x="511.8" y="442.8" class="tl">T VIII</text>
<text x="573.8" y="434.1" class="tl">T IX</text>
<text x="330.6" y="1091.4" class="tl">T V</text>
<text x="404.3" y="1150.2" class="tl">T VI</text>
<text x="436.2" y="1056.7" class="tl">T VIIa</text>
<text x="472.2" y="1006.8" class="tl">T VII</text>
<text transform="translate(610.5,1157) rotate(-90)" text-anchor="middle" style="font-family:'DejaVu Sans', 'Liberation Sans', sans-serif;font-size:9.8px;font-weight:bold">Weak monsoon</text>
<polygon points="618.9,1200.4 623.9,1200.4 623.9,1113 628.2,1113 621.4,1098 614.6,1113 618.9,1113" fill="#000"/>
</svg></body></html>
